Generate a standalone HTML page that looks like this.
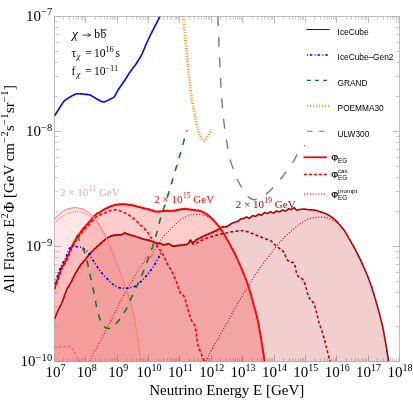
<!DOCTYPE html>
<html><head><meta charset="utf-8"><title>plot</title>
<style>html,body{margin:0;padding:0;background:#fff;overflow:hidden}svg{display:block}</style></head>
<body>
<svg width="413" height="400" viewBox="0 0 413 400">
<defs><clipPath id="cp"><rect x="54.50" y="16.50" width="345.00" height="345.00"/></clipPath></defs>
<rect width="413" height="400" fill="#fff"/>
<path d="M54.5 361.5v-6.4M54.5 16.5v6.4M85.5 361.5v-6.4M85.5 16.5v6.4M117.5 361.5v-6.4M117.5 16.5v6.4M148.5 361.5v-6.4M148.5 16.5v6.4M179.5 361.5v-6.4M179.5 16.5v6.4M211.5 361.5v-6.4M211.5 16.5v6.4M242.5 361.5v-6.4M242.5 16.5v6.4M274.5 361.5v-6.4M274.5 16.5v6.4M305.5 361.5v-6.4M305.5 16.5v6.4M336.5 361.5v-6.4M336.5 16.5v6.4M368.5 361.5v-6.4M368.5 16.5v6.4M399.5 361.5v-6.4M399.5 16.5v6.4M54.5 16.5h7.0M399.5 16.5h-7.0M54.5 131.5h7.0M399.5 131.5h-7.0M54.5 246.5h7.0M399.5 246.5h-7.0M54.5 361.5h7.0M399.5 361.5h-7.0" stroke="#bcbcbc" stroke-width="1" fill="none"/>
<path d="M63.5 361.5v-3.3M63.5 16.5v3.3M69.5 361.5v-3.3M69.5 16.5v3.3M73.5 361.5v-3.3M73.5 16.5v3.3M76.5 361.5v-3.3M76.5 16.5v3.3M78.5 361.5v-3.3M78.5 16.5v3.3M81.5 361.5v-3.3M81.5 16.5v3.3M82.5 361.5v-3.3M82.5 16.5v3.3M84.5 361.5v-3.3M84.5 16.5v3.3M95.5 361.5v-3.3M95.5 16.5v3.3M100.5 361.5v-3.3M100.5 16.5v3.3M104.5 361.5v-3.3M104.5 16.5v3.3M107.5 361.5v-3.3M107.5 16.5v3.3M110.5 361.5v-3.3M110.5 16.5v3.3M112.5 361.5v-3.3M112.5 16.5v3.3M114.5 361.5v-3.3M114.5 16.5v3.3M115.5 361.5v-3.3M115.5 16.5v3.3M126.5 361.5v-3.3M126.5 16.5v3.3M132.5 361.5v-3.3M132.5 16.5v3.3M136.5 361.5v-3.3M136.5 16.5v3.3M139.5 361.5v-3.3M139.5 16.5v3.3M141.5 361.5v-3.3M141.5 16.5v3.3M143.5 361.5v-3.3M143.5 16.5v3.3M145.5 361.5v-3.3M145.5 16.5v3.3M147.5 361.5v-3.3M147.5 16.5v3.3M158.5 361.5v-3.3M158.5 16.5v3.3M163.5 361.5v-3.3M163.5 16.5v3.3M167.5 361.5v-3.3M167.5 16.5v3.3M170.5 361.5v-3.3M170.5 16.5v3.3M172.5 361.5v-3.3M172.5 16.5v3.3M175.5 361.5v-3.3M175.5 16.5v3.3M176.5 361.5v-3.3M176.5 16.5v3.3M178.5 361.5v-3.3M178.5 16.5v3.3M189.5 361.5v-3.3M189.5 16.5v3.3M194.5 361.5v-3.3M194.5 16.5v3.3M198.5 361.5v-3.3M198.5 16.5v3.3M201.5 361.5v-3.3M201.5 16.5v3.3M204.5 361.5v-3.3M204.5 16.5v3.3M206.5 361.5v-3.3M206.5 16.5v3.3M208.5 361.5v-3.3M208.5 16.5v3.3M209.5 361.5v-3.3M209.5 16.5v3.3M220.5 361.5v-3.3M220.5 16.5v3.3M226.5 361.5v-3.3M226.5 16.5v3.3M230.5 361.5v-3.3M230.5 16.5v3.3M233.5 361.5v-3.3M233.5 16.5v3.3M235.5 361.5v-3.3M235.5 16.5v3.3M237.5 361.5v-3.3M237.5 16.5v3.3M239.5 361.5v-3.3M239.5 16.5v3.3M241.5 361.5v-3.3M241.5 16.5v3.3M252.5 361.5v-3.3M252.5 16.5v3.3M257.5 361.5v-3.3M257.5 16.5v3.3M261.5 361.5v-3.3M261.5 16.5v3.3M264.5 361.5v-3.3M264.5 16.5v3.3M267.5 361.5v-3.3M267.5 16.5v3.3M269.5 361.5v-3.3M269.5 16.5v3.3M271.5 361.5v-3.3M271.5 16.5v3.3M272.5 361.5v-3.3M272.5 16.5v3.3M283.5 361.5v-3.3M283.5 16.5v3.3M289.5 361.5v-3.3M289.5 16.5v3.3M292.5 361.5v-3.3M292.5 16.5v3.3M295.5 361.5v-3.3M295.5 16.5v3.3M298.5 361.5v-3.3M298.5 16.5v3.3M300.5 361.5v-3.3M300.5 16.5v3.3M302.5 361.5v-3.3M302.5 16.5v3.3M303.5 361.5v-3.3M303.5 16.5v3.3M314.5 361.5v-3.3M314.5 16.5v3.3M320.5 361.5v-3.3M320.5 16.5v3.3M324.5 361.5v-3.3M324.5 16.5v3.3M327.5 361.5v-3.3M327.5 16.5v3.3M329.5 361.5v-3.3M329.5 16.5v3.3M331.5 361.5v-3.3M331.5 16.5v3.3M333.5 361.5v-3.3M333.5 16.5v3.3M335.5 361.5v-3.3M335.5 16.5v3.3M346.5 361.5v-3.3M346.5 16.5v3.3M351.5 361.5v-3.3M351.5 16.5v3.3M355.5 361.5v-3.3M355.5 16.5v3.3M358.5 361.5v-3.3M358.5 16.5v3.3M361.5 361.5v-3.3M361.5 16.5v3.3M363.5 361.5v-3.3M363.5 16.5v3.3M365.5 361.5v-3.3M365.5 16.5v3.3M366.5 361.5v-3.3M366.5 16.5v3.3M377.5 361.5v-3.3M377.5 16.5v3.3M383.5 361.5v-3.3M383.5 16.5v3.3M387.5 361.5v-3.3M387.5 16.5v3.3M390.5 361.5v-3.3M390.5 16.5v3.3M392.5 361.5v-3.3M392.5 16.5v3.3M394.5 361.5v-3.3M394.5 16.5v3.3M396.5 361.5v-3.3M396.5 16.5v3.3M398.5 361.5v-3.3M398.5 16.5v3.3M54.5 96.5h3.7M399.5 96.5h-3.7M54.5 76.5h3.7M399.5 76.5h-3.7M54.5 62.5h3.7M399.5 62.5h-3.7M54.5 51.5h3.7M399.5 51.5h-3.7M54.5 42.5h3.7M399.5 42.5h-3.7M54.5 34.5h3.7M399.5 34.5h-3.7M54.5 27.5h3.7M399.5 27.5h-3.7M54.5 21.5h3.7M399.5 21.5h-3.7M54.5 211.5h3.7M399.5 211.5h-3.7M54.5 191.5h3.7M399.5 191.5h-3.7M54.5 177.5h3.7M399.5 177.5h-3.7M54.5 166.5h3.7M399.5 166.5h-3.7M54.5 157.5h3.7M399.5 157.5h-3.7M54.5 149.5h3.7M399.5 149.5h-3.7M54.5 142.5h3.7M399.5 142.5h-3.7M54.5 136.5h3.7M399.5 136.5h-3.7M54.5 326.5h3.7M399.5 326.5h-3.7M54.5 306.5h3.7M399.5 306.5h-3.7M54.5 292.5h3.7M399.5 292.5h-3.7M54.5 281.5h3.7M399.5 281.5h-3.7M54.5 272.5h3.7M399.5 272.5h-3.7M54.5 264.5h3.7M399.5 264.5h-3.7M54.5 257.5h3.7M399.5 257.5h-3.7M54.5 251.5h3.7M399.5 251.5h-3.7" stroke="#cccccc" stroke-width="1" fill="none"/>
<rect x="54.50" y="16.50" width="345.00" height="345.00" fill="none" stroke="#b4b4b4" stroke-width="0.85"/>
<g clip-path="url(#cp)" fill="none" stroke-linejoin="round">
<path d="M54.5 319.0L54.6 318.8L54.7 318.4L54.9 317.9L55.2 317.4L55.4 316.7L55.7 316.1L56.0 315.3L56.2 314.6L56.5 313.9L56.8 313.2L57.1 312.5L57.3 311.9L57.6 311.4L57.8 311.0L57.9 310.6L58.1 310.2L58.4 309.7L58.7 309.2L59.0 308.6L59.3 308.0L59.6 307.3L60.0 306.7L60.3 306.0L60.6 305.4L61.0 304.7L61.3 304.1L61.6 303.3L61.8 302.7L62.1 302.2L62.2 301.8L62.4 301.6L62.5 301.4L62.7 301.0L62.9 300.6L63.1 299.9L63.3 299.1L63.6 298.4L63.8 297.7L64.0 297.0L64.3 296.2L64.5 295.4L64.8 294.5L65.0 293.8L65.2 293.3L65.5 293.0L65.7 292.6L65.9 292.1L66.1 291.5L66.2 290.9L66.4 290.3L66.5 289.9L66.7 289.3L67.0 288.9L67.3 288.4L67.6 287.8L68.0 287.2L68.3 286.9L68.7 286.7L69.1 286.0L69.4 285.0L69.7 284.3L70.0 283.9L70.2 283.7L70.4 283.4L70.6 283.1L70.9 282.6L71.1 282.1L71.4 281.6L71.7 281.2L72.0 280.4L72.4 279.3L72.7 278.4L73.0 277.9L73.4 277.6L73.7 277.0L74.0 276.3L74.3 275.6L74.6 275.1L74.8 274.7L75.1 274.1L75.2 273.6L75.5 273.0L75.7 272.5L76.0 272.2L76.3 272.1L76.7 271.7L77.0 270.9L77.4 270.0L77.8 269.4L78.1 268.8L78.5 268.0L78.8 267.5L79.2 267.3L79.5 267.1L79.8 266.6L80.0 265.9L80.2 265.4L80.5 264.9L80.8 264.5L81.2 264.2L81.6 263.6L82.1 263.3L82.6 263.1L83.0 262.1L83.5 261.2L83.9 260.9L84.3 260.7L84.7 260.2L85.0 259.9L85.2 259.7L85.6 259.4L85.9 258.7L86.3 257.7L86.8 257.3L87.2 257.2L87.7 256.6L88.1 255.9L88.6 255.4L88.9 254.8L89.2 254.2L89.5 253.8L89.9 253.8L90.3 253.8L90.8 253.0L91.3 252.1L91.9 251.6L92.4 250.9L92.9 250.7L93.4 250.5L93.8 249.7L94.2 249.0L94.5 248.7L94.8 248.6L95.2 248.3L95.7 247.9L96.2 247.8L96.7 247.0L97.2 246.1L97.7 246.0L98.2 245.9L98.6 245.4L99.0 245.1L99.3 244.9L99.7 244.4L100.1 243.6L100.6 243.4L101.2 243.5L101.7 242.6L102.3 242.1L102.8 241.4L103.4 240.9L103.9 241.0L104.3 240.7L104.7 239.9L105.0 239.5L105.4 239.3L105.9 239.0L106.4 238.6L107.0 238.7L107.6 237.9L108.2 237.2L108.7 237.2L109.1 237.0L109.5 236.8L110.0 236.8L110.6 236.2L111.3 235.7L112.0 236.1L112.7 235.6L113.4 235.3L114.0 234.9L114.4 235.1L114.9 235.6L115.5 235.1L116.2 235.0L117.0 234.8L117.8 235.5L118.6 234.8L119.4 234.9L120.1 234.9L120.7 235.2L121.2 235.0L121.5 234.6L122.1 234.3L122.8 234.2L123.4 233.6L124.0 233.3L124.5 232.6L124.9 232.6L125.5 233.4L126.2 233.5L127.0 233.7L127.7 233.7L128.4 234.6L129.0 234.7L129.3 234.5L129.8 234.6L130.3 234.8L130.9 235.0L131.6 235.7L132.3 235.3L133.0 235.5L133.7 235.9L134.4 236.4L135.0 236.3L135.6 236.0L136.1 236.6L136.5 237.0L136.9 237.0L137.4 237.2L138.0 237.2L138.6 237.1L139.3 238.0L140.0 238.0L140.7 238.1L141.3 238.2L142.0 238.8L142.6 239.2L143.2 238.8L143.6 239.0L144.0 239.2L144.5 239.3L145.0 239.8L145.7 239.9L146.4 239.4L147.1 240.0L147.8 240.1L148.5 240.4L149.1 239.9L149.6 240.1L150.0 240.7L150.5 240.9L151.0 241.0L151.6 241.3L152.2 241.3L152.9 242.2L153.5 242.6L154.0 242.4L154.5 242.7L154.9 242.7L155.4 242.8L156.1 243.4L156.8 242.9L157.6 243.0L158.3 243.2L159.0 243.6L159.6 243.3L160.1 243.0L160.5 243.4L161.1 243.9L161.7 244.2L162.3 244.6L163.0 244.4L163.5 244.9L163.9 245.3L164.5 244.9L165.3 244.6L166.1 244.1L166.9 244.6L167.6 243.9L168.3 243.8L168.8 243.8L169.2 243.9L169.7 244.6L170.3 244.8L170.9 244.7L171.6 245.5L172.2 245.9L172.8 246.3L173.2 246.3L173.6 245.9L174.1 245.9L174.8 246.4L175.4 246.1L176.2 245.9L176.9 245.4L177.7 246.0L178.4 245.5L179.0 245.3L179.6 245.1L180.0 245.1L180.4 245.5L181.0 245.4L181.7 244.8L182.4 245.0L183.2 245.0L183.9 245.1L184.7 244.4L185.3 244.8L185.9 244.7L186.4 244.7L186.8 244.7L187.4 243.8L188.1 243.6L188.6 243.5L189.0 242.9L189.3 242.3L189.7 241.7L190.1 240.9L190.5 240.2L190.8 240.1L191.1 240.7L191.5 241.6L191.9 242.0L192.4 242.3L192.8 242.6L193.1 242.5L193.5 242.0L194.1 241.9L194.7 241.5L195.4 240.3L196.0 240.1L196.5 239.8L196.8 239.6L197.3 239.6L197.8 239.2L198.4 238.3L199.1 238.5L199.8 238.2L200.5 237.9L201.2 237.0L201.9 237.1L202.5 237.0L203.1 236.4L203.6 236.1L204.0 235.8L204.4 235.5L204.9 235.8L205.5 235.7L206.1 234.8L206.8 234.7L207.5 234.4L208.2 234.6L208.8 233.7L209.5 233.3L210.1 233.4L210.7 233.2L211.1 233.1L211.5 232.8L212.0 232.1L212.5 232.1L213.2 232.3L213.9 231.7L214.6 231.2L215.3 230.8L216.0 231.1L216.6 230.4L217.1 230.0L217.5 229.9L217.9 229.6L218.4 229.4L218.9 229.5L219.5 228.6L220.1 227.9L220.7 227.8L221.2 227.4L221.6 227.4L222.0 227.4L222.5 226.8L223.1 226.5L223.9 227.0L224.6 227.0L225.4 226.8L226.0 226.4L226.5 226.9L226.9 226.9L227.5 226.2L228.1 225.8L228.8 225.1L229.5 225.2L230.1 224.8L230.6 224.0L231.0 223.8L231.5 223.6L232.1 223.4L232.8 223.2L233.4 222.7L234.0 222.5L234.4 222.4L234.9 222.2L235.5 221.9L236.2 221.7L237.0 221.6L237.8 221.4L238.5 221.1L239.1 220.6L239.6 220.0L240.0 219.6L240.5 219.2L241.0 218.9L241.5 218.7L242.0 218.6L242.5 218.6L243.0 218.6L243.4 218.6L243.9 218.5L244.5 218.2L245.2 217.7L245.9 217.2L246.6 217.1L247.3 217.3L248.0 217.7L248.6 218.1L249.0 218.2L249.4 218.2L250.0 218.0L250.6 217.4L251.3 216.7L252.0 216.1L252.7 215.8L253.4 215.8L254.0 216.0L254.6 216.2L255.0 216.3L255.4 216.3L256.0 216.1L256.6 215.6L257.3 215.0L258.0 214.5L258.7 214.3L259.4 214.4L260.0 214.7L260.6 215.0L261.0 215.1L261.4 215.1L262.0 214.8L262.6 214.3L263.3 213.6L264.0 213.0L264.7 212.7L265.4 212.8L266.0 213.1L266.6 213.3L267.0 213.4L267.4 213.4L268.0 213.3L268.6 212.9L269.3 212.4L270.0 212.0L270.7 211.9L271.4 212.1L272.0 212.5L272.6 212.8L273.0 213.0L273.4 213.0L274.0 212.9L274.6 212.4L275.3 211.8L276.0 211.2L276.7 211.0L277.4 211.1L278.0 211.4L278.6 211.7L279.0 211.8L279.4 211.8L280.0 211.7L280.6 211.3L281.3 210.7L282.0 210.2L282.7 210.0L283.4 210.2L284.0 210.6L284.6 210.9L285.0 211.0L285.4 211.0L286.0 210.8L286.7 210.3L287.4 209.6L288.1 209.0L288.8 208.8L289.5 208.9L290.1 209.2L290.6 209.4L291.0 209.5L291.6 209.4L292.3 209.0L292.9 208.4L293.5 207.9L294.0 207.7L294.5 207.9L295.1 208.5L295.7 209.3L296.4 209.9L297.0 210.2L297.4 210.1L297.9 209.9L298.5 209.8L299.2 209.7L299.9 209.5L300.6 209.4L301.3 209.2L302.0 209.1L302.6 209.0L303.0 209.0L303.4 209.0L304.0 209.1L304.6 209.1L305.3 209.2L306.0 209.3L306.7 209.4L307.4 209.5L308.0 209.6L308.6 209.7L309.0 209.8L309.4 209.8L310.0 209.8L310.6 209.9L311.3 209.9L312.0 209.9L312.7 210.0L313.4 210.0L314.0 210.1L314.6 210.1L315.0 210.2L315.4 210.3L316.0 210.4L316.6 210.6L317.3 210.8L318.0 211.0L318.7 211.3L319.4 211.5L320.0 211.7L320.6 211.9L321.0 212.0L321.4 212.1L322.0 212.3L322.6 212.6L323.3 212.8L324.0 213.1L324.7 213.3L325.4 213.6L326.0 213.8L326.6 214.1L327.0 214.2L327.4 214.5L327.9 214.7L328.4 215.0L329.0 215.4L329.7 215.8L330.3 216.2L331.0 216.6L331.6 217.0L332.1 217.4L332.6 217.7L333.0 218.0L333.3 218.2L333.6 218.6L334.1 218.9L334.5 219.4L335.0 219.8L335.5 220.3L336.0 220.9L336.5 221.4L337.0 221.9L337.5 222.4L337.9 222.9L338.4 223.3L338.7 223.7L339.0 224.0L339.3 224.3L339.6 224.6L339.9 225.1L340.3 225.5L340.7 226.0L341.1 226.6L341.6 227.1L342.1 227.7L342.5 228.2L343.0 228.8L343.4 229.3L343.8 229.9L344.2 230.3L344.5 230.8L344.8 231.2L345.0 231.5L345.2 231.9L345.5 232.3L345.8 232.8L346.1 233.3L346.4 233.9L346.8 234.5L347.1 235.1L347.5 235.7L347.9 236.4L348.2 237.0L348.5 237.6L348.8 238.1L349.1 238.7L349.4 239.1L349.6 239.5L349.8 239.8L350.0 240.2L350.3 240.7L350.6 241.2L350.9 241.7L351.2 242.3L351.5 242.9L351.9 243.5L352.2 244.1L352.6 244.7L353.0 245.4L353.3 246.0L353.7 246.6L354.0 247.1L354.3 247.7L354.5 248.2L354.8 248.6L355.0 249.0L355.2 249.3L355.4 249.7L355.6 250.1L355.8 250.6L356.1 251.1L356.4 251.7L356.7 252.3L357.0 252.9L357.3 253.5L357.6 254.2L358.0 254.8L358.3 255.5L358.6 256.2L359.0 256.8L359.3 257.4L359.6 258.1L359.9 258.6L360.1 259.2L360.4 259.7L360.6 260.2L360.8 260.6L361.0 261.0L361.2 261.3L361.4 261.8L361.6 262.2L361.8 262.7L362.0 263.2L362.3 263.8L362.6 264.4L362.9 265.1L363.1 265.7L363.4 266.4L363.8 267.1L364.1 267.8L364.4 268.4L364.7 269.1L365.0 269.8L365.2 270.4L365.5 271.1L365.8 271.7L366.0 272.3L366.3 272.8L366.5 273.3L366.7 273.7L366.9 274.2L367.0 274.5L367.2 274.9L367.3 275.3L367.5 275.8L367.7 276.4L368.0 276.9L368.2 277.5L368.4 278.2L368.7 278.8L368.9 279.5L369.2 280.2L369.4 280.8L369.7 281.5L369.9 282.2L370.2 282.8L370.4 283.5L370.6 284.1L370.8 284.6L371.0 285.2L371.2 285.7L371.4 286.1L371.5 286.5L371.6 286.9L371.8 287.3L371.9 287.8L372.1 288.3L372.3 288.9L372.4 289.5L372.6 290.1L372.8 290.8L373.1 291.5L373.3 292.2L373.5 292.9L373.7 293.6L373.9 294.3L374.1 295.0L374.3 295.7L374.5 296.4L374.7 297.0L374.9 297.6L375.1 298.2L375.2 298.7L375.4 299.2L375.5 299.6L375.6 300.0L375.7 300.4L375.9 300.9L376.0 301.4L376.2 302.0L376.3 302.6L376.5 303.2L376.7 303.9L376.9 304.5L377.1 305.2L377.3 305.9L377.5 306.6L377.7 307.3L377.9 308.0L378.1 308.7L378.3 309.3L378.4 310.0L378.6 310.5L378.8 311.1L378.9 311.6L379.0 312.0L379.1 312.4L379.2 312.8L379.3 313.2L379.5 313.7L379.6 314.3L379.8 314.9L379.9 315.5L380.1 316.2L380.3 316.8L380.4 317.5L380.6 318.2L380.8 319.0L381.0 319.7L381.2 320.4L381.3 321.1L381.5 321.8L381.7 322.5L381.9 323.2L382.0 323.9L382.2 324.5L382.3 325.1L382.4 325.6L382.6 326.1L382.7 326.6L382.8 327.0L382.8 327.4L382.9 327.8L383.0 328.3L383.1 328.8L383.2 329.4L383.3 330.0L383.5 330.6L383.6 331.2L383.7 331.9L383.8 332.6L384.0 333.3L384.1 334.0L384.2 334.8L384.3 335.5L384.5 336.2L384.6 337.0L384.7 337.7L384.9 338.4L385.0 339.1L385.1 339.8L385.2 340.4L385.3 341.0L385.4 341.6L385.5 342.1L385.6 342.6L385.7 343.1L385.8 343.5L385.8 343.9L385.9 344.3L386.0 344.8L386.1 345.3L386.1 345.9L386.2 346.5L386.3 347.2L386.5 347.8L386.6 348.5L386.7 349.3L386.8 350.0L386.9 350.8L387.0 351.5L387.2 352.3L387.3 353.1L387.4 353.8L387.5 354.6L387.6 355.3L387.8 356.0L387.9 356.7L388.0 357.4L388.1 358.0L388.2 358.6L388.3 359.2L388.3 359.7L388.4 360.2L388.5 360.6L388.5 360.9L388.6 361.2L388.6 361.4L388.60 366.50 L54.50 366.50 Z" fill="#b40000" fill-opacity="0.19" stroke="none"/>
<path d="M54.5 288.0L54.6 287.9L55.0 286.9L55.1 286.6L55.2 286.2L55.4 285.7L55.6 285.2L55.8 284.6L56.0 283.9L56.2 283.2L56.5 282.5L56.7 281.8L56.9 281.1L57.2 280.4L57.4 279.8L57.6 279.1L57.8 278.5L58.0 278.0L58.2 277.5L58.3 277.0L58.5 276.5L58.7 275.9L58.9 275.3L59.1 274.7L59.3 274.0L59.5 273.4L59.8 272.7L60.0 272.1L60.2 271.4L60.4 270.8L60.7 270.2L60.9 269.6L61.1 269.1L61.3 268.6L61.5 268.1L61.7 267.6L62.0 267.2L62.2 266.6L62.5 266.2L62.8 265.7L63.1 265.1L63.5 264.5L63.8 263.9L64.1 263.4L64.5 262.7L64.8 261.9L65.1 261.5L65.4 261.3L65.7 261.0L66.0 260.5L66.3 259.8L66.5 259.1L66.7 258.6L66.9 258.1L67.2 257.6L67.4 257.1L67.7 256.4L67.9 255.8L68.1 255.2L68.4 254.8L68.6 254.4L68.9 253.8L69.1 253.0L69.4 252.1L69.6 251.3L69.9 250.7L70.1 250.3L70.3 249.9L70.5 249.5L70.7 249.0L71.0 248.5L71.2 248.0L71.5 247.6L71.8 247.0L72.1 246.2L72.4 245.3L72.7 244.5L73.0 244.0L73.3 243.7L73.7 243.2L74.0 242.6L74.2 242.0L74.5 241.5L74.8 241.0L75.0 240.6L75.3 239.8L75.6 239.1L76.0 238.7L76.3 238.6L76.7 238.2L77.1 237.4L77.4 236.6L77.8 236.1L78.2 235.5L78.5 234.8L78.9 234.4L79.2 234.3L79.5 234.1L79.8 233.6L80.2 232.8L80.5 232.1L80.9 231.7L81.3 231.2L81.7 230.7L82.1 230.3L82.5 230.0L82.9 229.3L83.3 228.4L83.6 227.9L84.0 227.7L84.3 227.5L84.6 227.1L85.0 226.7L85.4 226.3L85.8 225.7L86.3 224.8L86.7 224.4L87.2 224.3L87.6 223.9L88.0 223.2L88.5 222.7L88.9 222.2L89.3 221.5L89.7 221.1L90.0 221.1L90.3 221.0L90.7 220.4L91.1 219.6L91.6 219.1L92.0 218.6L92.5 218.0L92.9 217.8L93.4 217.5L93.8 216.6L94.3 215.8L94.7 215.5L95.1 215.2L95.4 214.8L95.7 214.5L96.0 214.5L96.7 213.8L97.2 213.1L97.8 213.2L98.3 213.2L99.0 212.9L99.4 212.7L99.8 212.1L100.3 211.6L100.8 211.7L101.4 211.4L102.0 210.8L102.6 210.3L103.2 209.7L103.8 209.9L104.4 209.5L105.0 208.8L105.4 208.7L105.9 208.5L106.4 208.3L106.9 208.4L107.5 207.9L108.1 207.2L108.7 207.3L109.3 207.0L110.0 207.0L110.6 206.3L111.3 205.9L111.9 206.2L112.4 205.8L113.0 205.6L113.5 205.3L114.0 204.9L114.5 205.2L115.0 205.3L115.6 204.8L116.2 204.7L116.9 204.5L117.5 204.8L118.2 204.8L118.8 204.2L119.5 204.3L120.1 204.3L120.8 204.6L121.4 204.2L122.0 203.9L122.5 204.3L123.0 204.3L123.5 204.3L124.0 204.4L124.6 203.9L125.2 204.3L125.9 204.6L126.5 204.4L127.2 204.5L127.8 204.3L128.5 205.0L129.1 204.9L129.8 204.7L130.4 204.9L131.0 205.0L131.5 205.5L132.0 205.4L132.5 205.0L133.0 205.4L133.6 205.6L134.2 205.9L134.9 206.1L135.5 205.7L136.2 206.3L136.8 206.5L137.5 206.7L138.1 206.6L138.8 206.7L139.4 207.4L140.0 207.3L140.5 207.3L141.0 207.4L141.5 207.4L142.1 207.9L142.6 208.2L143.3 207.8L143.9 208.2L144.6 208.3L145.2 208.9L145.9 208.7L146.6 208.6L147.2 209.2L147.9 209.3L148.4 209.6L149.0 209.2L149.5 209.3L150.0 209.9L150.6 210.1L151.2 210.1L151.8 210.2L152.5 210.2L153.1 211.1L153.8 210.8L154.5 211.0L155.2 211.1L155.8 211.6L156.4 211.8L157.0 211.4L157.5 211.5L158.0 211.7L158.6 211.7L159.2 211.9L159.8 211.3L160.5 211.3L161.2 211.5L161.9 211.4L162.5 211.1L163.2 210.7L163.8 211.2L164.4 211.0L165.0 210.8L165.5 210.7L166.0 210.5L166.6 210.9L167.1 211.1L167.8 210.6L168.4 210.7L169.1 210.7L169.8 211.1L170.4 210.8L171.1 210.5L171.7 210.9L172.4 210.9L172.9 211.0L173.5 210.5L174.0 210.4L174.5 210.8L175.0 210.7L175.6 210.5L176.2 210.3L176.9 209.8L177.5 210.3L178.2 210.0L178.8 209.6L179.5 209.4L180.1 209.4L180.8 209.7L181.4 209.1L182.0 208.9L182.5 209.0L183.0 209.0L183.5 209.3L184.1 209.1L184.6 208.6L185.3 209.1L185.9 209.2L186.6 209.3L187.2 209.0L187.9 209.1L188.6 209.6L189.2 209.4L189.9 209.5L190.4 209.3L191.0 209.6L191.5 210.1L192.0 209.8L192.6 209.6L193.2 209.8L193.8 209.9L194.5 210.4L195.2 209.8L195.9 210.1L196.6 210.3L197.2 210.6L197.9 210.4L198.5 210.2L199.0 210.8L199.5 211.0L200.1 211.0L200.7 211.2L201.3 211.1L201.9 211.8L202.6 212.2L203.2 212.2L203.8 212.5L204.4 212.7L205.0 213.5L205.5 213.8L205.9 213.6L206.4 213.9L206.9 214.3L207.4 214.7L208.0 215.4L208.5 215.8L209.0 215.6L209.6 216.3L210.1 216.9L210.6 217.2L211.1 217.7L211.5 218.0L211.8 218.3L212.2 218.7L212.6 219.1L213.0 219.6L213.5 220.0L213.9 220.5L214.3 221.0L214.8 221.6L215.2 222.1L215.7 222.6L216.1 223.1L216.5 223.5L216.9 224.0L217.2 224.4L217.5 224.8L217.9 225.2L218.2 225.7L218.6 226.2L219.0 226.7L219.4 227.2L219.8 227.7L220.2 228.2L220.6 228.8L221.0 229.3L221.3 229.8L221.7 230.3L222.0 230.8L222.3 231.2L222.6 231.6L222.9 232.1L223.2 232.7L223.5 233.2L223.9 233.8L224.2 234.4L224.6 235.0L225.0 235.6L225.3 236.2L225.6 236.7L225.9 237.3L226.2 237.8L226.5 238.2L226.8 238.7L227.0 239.2L227.3 239.7L227.6 240.3L227.9 240.8L228.3 241.4L228.6 242.0L228.9 242.6L229.2 243.2L229.6 243.8L229.9 244.4L230.2 245.0L230.5 245.5L230.7 246.0L231.0 246.5L231.2 246.9L231.5 247.4L231.7 247.9L232.0 248.4L232.3 248.9L232.6 249.4L232.9 249.9L233.2 250.5L233.5 251.0L233.8 251.6L234.1 252.2L234.4 252.7L234.7 253.3L235.0 253.9L235.2 254.4L235.5 255.0L235.7 255.4L235.9 255.8L236.1 256.3L236.3 256.8L236.6 257.3L236.8 257.8L237.1 258.4L237.3 259.0L237.6 259.6L237.9 260.2L238.1 260.8L238.4 261.4L238.7 262.1L239.0 262.7L239.3 263.3L239.5 264.0L239.8 264.6L240.1 265.2L240.3 265.8L240.6 266.4L240.8 266.9L241.1 267.5L241.3 268.0L241.5 268.5L241.7 269.0L241.9 269.4L242.1 269.9L242.3 270.5L242.6 271.0L242.8 271.6L243.0 272.2L243.3 272.8L243.5 273.4L243.8 274.0L244.1 274.6L244.3 275.3L244.6 275.9L244.8 276.6L245.1 277.2L245.3 277.8L245.6 278.5L245.8 279.1L246.1 279.7L246.3 280.3L246.5 280.9L246.8 281.5L247.0 282.0L247.1 282.5L247.3 283.0L247.5 283.5L247.7 284.0L247.8 284.5L248.0 285.0L248.2 285.5L248.4 286.1L248.5 286.7L248.7 287.2L248.9 287.8L249.1 288.4L249.3 289.1L249.5 289.7L249.6 290.3L249.8 290.9L250.0 291.6L250.2 292.2L250.4 292.8L250.6 293.4L250.7 294.0L250.9 294.6L251.1 295.2L251.2 295.8L251.4 296.4L251.6 297.0L251.7 297.5L251.9 298.0L252.0 298.5L252.1 299.0L252.3 299.5L252.4 300.0L252.6 300.6L252.7 301.1L252.9 301.7L253.1 302.4L253.3 303.0L253.4 303.6L253.6 304.3L253.8 305.0L254.0 305.6L254.2 306.3L254.4 307.0L254.5 307.7L254.7 308.3L254.9 309.0L255.1 309.7L255.3 310.3L255.4 310.9L255.6 311.5L255.7 312.1L255.9 312.7L256.0 313.2L256.2 313.7L256.3 314.2L256.4 314.6L256.5 315.0L256.7 315.6L256.8 316.2L256.9 316.8L257.1 317.3L257.2 317.8L257.3 318.4L257.5 318.9L257.6 319.4L257.7 320.0L257.8 320.5L258.0 321.1L258.1 321.7L258.2 322.3L258.3 322.9L258.5 323.6L258.6 324.3L258.8 325.0L258.8 325.4L258.9 325.8L259.0 326.2L259.0 326.6L259.1 327.1L259.2 327.7L259.3 328.2L259.4 328.8L259.5 329.4L259.6 330.0L259.7 330.6L259.8 331.2L259.9 331.9L260.1 332.6L260.2 333.3L260.3 333.9L260.4 334.6L260.5 335.3L260.6 336.1L260.7 336.8L260.9 337.5L261.0 338.2L261.1 338.9L261.2 339.6L261.3 340.2L261.4 340.9L261.5 341.6L261.6 342.2L261.7 342.9L261.8 343.5L261.9 344.1L262.0 344.6L262.1 345.2L262.2 345.7L262.3 346.2L262.4 346.7L262.4 347.1L262.5 347.5L262.6 348.1L262.7 348.8L262.8 349.5L262.9 350.2L263.0 350.9L263.1 351.6L263.3 352.4L263.4 353.1L263.5 353.8L263.6 354.5L263.7 355.2L263.8 355.9L263.9 356.6L264.0 357.2L264.1 357.9L264.2 358.4L264.2 359.0L264.3 359.5L264.4 360.0L264.5 360.4L264.5 360.8L264.6 361.1L264.6 361.4L264.60 366.50 L54.50 366.50 Z" fill="#ff0000" fill-opacity="0.2" stroke="none"/>
<path d="M54.5 219.0L54.8 218.7L55.1 218.4L55.5 218.0L55.9 217.5L56.4 217.0L56.9 216.5L57.4 215.9L57.9 215.4L58.5 214.9L59.0 214.4L59.5 213.9L60.0 213.5L60.5 213.1L61.0 212.7L61.6 212.3L62.1 211.9L62.6 211.6L63.1 211.2L63.7 210.9L64.2 210.6L64.8 210.3L65.4 210.0L66.0 209.8L66.6 209.5L67.2 209.3L67.8 209.1L68.4 208.9L69.1 208.7L69.8 208.5L70.4 208.4L71.1 208.2L71.7 208.1L72.3 208.0L72.9 207.9L73.5 207.8L74.2 207.7L74.8 207.7L75.4 207.7L76.0 207.7L76.6 207.8L77.2 207.8L77.7 207.9L78.3 208.0L78.9 208.1L79.5 208.2L80.1 208.4L80.7 208.5L81.3 208.7L81.9 208.9L82.5 209.1L83.1 209.4L83.7 209.6L84.3 209.9L84.9 210.2L85.5 210.5L86.0 210.8L86.5 211.1L87.0 211.4L87.5 211.7L88.0 212.1L88.5 212.4L89.0 212.8L89.5 213.2L90.0 213.6L90.5 214.1L91.0 214.5L91.5 215.0L91.9 215.4L92.2 215.8L92.6 216.2L93.0 216.6L93.4 217.0L93.8 217.5L94.1 218.0L94.5 218.4L94.9 218.9L95.2 219.4L95.6 219.9L96.0 220.4L96.4 220.9L96.8 221.4L97.1 222.0L97.5 222.5L97.8 223.0L98.1 223.4L98.5 223.9L98.8 224.4L99.1 224.9L99.4 225.4L99.8 226.0L100.1 226.5L100.4 227.0L100.8 227.5L101.1 228.1L101.4 228.6L101.7 229.1L102.0 229.7L102.3 230.2L102.6 230.7L102.9 231.2L103.2 231.8L103.5 232.2L103.8 232.8L104.1 233.4L104.4 233.9L104.7 234.4L105.0 235.0L105.2 235.5L105.5 236.0L105.8 236.5L106.0 237.0L106.3 237.6L106.6 238.1L106.8 238.7L107.1 239.3L107.4 239.9L107.7 240.6L108.0 241.2L108.2 241.7L108.4 242.2L108.7 242.7L108.9 243.3L109.1 243.8L109.3 244.3L109.6 244.9L109.8 245.4L110.0 246.0L110.3 246.6L110.5 247.2L110.8 247.8L111.0 248.3L111.3 248.9L111.5 249.5L111.7 250.1L112.0 250.8L112.2 251.4L112.5 252.0L112.7 252.6L113.0 253.2L113.2 253.8L113.5 254.4L113.7 255.0L113.9 255.6L114.1 256.1L114.4 256.7L114.6 257.2L114.8 257.8L115.0 258.4L115.3 258.9L115.5 259.5L115.7 260.1L115.9 260.7L116.2 261.3L116.4 261.8L116.6 262.4L116.9 263.0L117.1 263.6L117.3 264.2L117.5 264.8L117.8 265.3L118.0 265.9L118.2 266.5L118.4 267.1L118.6 267.7L118.9 268.3L119.1 268.8L119.3 269.4L119.5 270.0L119.7 270.6L119.9 271.2L120.1 271.7L120.3 272.3L120.5 272.9L120.7 273.4L121.0 274.0L121.2 274.6L121.4 275.2L121.6 275.7L121.8 276.3L122.0 276.9L122.2 277.4L122.4 278.0L122.6 278.6L122.8 279.2L123.0 279.7L123.2 280.3L123.4 280.9L123.5 281.5L123.7 282.1L123.9 282.6L124.1 283.2L124.3 283.8L124.5 284.4L124.8 285.0L124.9 285.6L125.1 286.1L125.3 286.7L125.5 287.2L125.7 287.8L125.9 288.4L126.1 289.0L126.3 289.5L126.5 290.1L126.7 290.7L126.9 291.3L127.1 291.9L127.3 292.4L127.5 293.0L127.7 293.6L127.9 294.2L128.0 294.8L128.2 295.4L128.4 295.9L128.6 296.5L128.8 297.1L129.0 297.7L129.2 298.2L129.3 298.8L129.5 299.3L129.7 299.9L129.8 300.5L130.0 301.0L130.2 301.6L130.4 302.3L130.5 302.9L130.7 303.5L130.9 304.1L131.1 304.7L131.2 305.3L131.4 305.9L131.5 306.5L131.7 307.0L131.9 307.6L132.0 308.2L132.2 308.8L132.3 309.4L132.5 310.0L132.6 310.6L132.8 311.2L132.9 311.8L133.0 312.4L133.2 313.0L133.3 313.6L133.5 314.2L133.6 314.9L133.8 315.5L133.9 316.1L134.0 316.7L134.1 317.3L134.2 317.9L134.4 318.5L134.5 319.1L134.6 319.7L134.7 320.3L134.8 320.9L134.9 321.5L135.1 322.2L135.2 322.8L135.3 323.4L135.4 324.0L135.5 324.7L135.6 325.3L135.7 325.9L135.8 326.5L135.9 327.2L136.0 327.8L136.1 328.4L136.3 329.0L136.4 329.6L136.5 330.2L136.6 330.8L136.7 331.4L136.8 332.0L136.9 332.6L137.0 333.3L137.1 333.9L137.2 334.5L137.3 335.1L137.3 335.7L137.4 336.3L137.5 336.9L137.6 337.5L137.7 338.1L137.8 338.7L137.9 339.3L138.0 339.9L138.1 340.5L138.2 341.1L138.2 341.7L138.3 342.3L138.4 342.9L138.5 343.5L138.6 344.1L138.7 344.6L138.8 345.2L138.8 345.8L138.9 346.4L139.0 347.0L139.1 347.6L139.2 348.3L139.3 348.9L139.4 349.6L139.5 350.3L139.5 351.0L139.6 351.7L139.7 352.4L139.8 353.1L139.9 353.8L140.0 354.5L140.1 355.1L140.2 355.8L140.3 356.5L140.3 357.1L140.4 357.7L140.5 358.3L140.6 358.8L140.6 359.4L140.7 359.8L140.8 360.3L140.8 360.7L140.9 361.1L140.9 361.4L140.90 366.50 L54.50 366.50 Z" fill="#ff8080" fill-opacity="0.2" stroke="none"/>
<path d="M205.8 361.4L205.9 361.1L206.1 360.8L206.3 360.4L206.5 359.9L206.8 359.5L207.0 358.9L207.3 358.4L207.5 357.8L207.8 357.3L208.1 356.7L208.4 356.0L208.7 355.4L209.1 354.8L209.4 354.2L209.7 353.5L210.0 352.9L210.3 352.3L210.6 351.7L210.9 351.1L211.2 350.5L211.5 350.0L211.8 349.5L212.1 348.9L212.4 348.4L212.7 347.8L213.0 347.3L213.3 346.8L213.6 346.3L213.9 345.7L214.2 345.2L214.5 344.7L214.8 344.2L215.1 343.7L215.4 343.1L215.7 342.6L216.0 342.1L216.3 341.6L216.6 341.1L216.9 340.5L217.2 340.0L217.5 339.5L217.8 339.0L218.1 338.5L218.4 337.9L218.7 337.4L219.0 336.9L219.3 336.3L219.6 335.8L219.9 335.3L220.2 334.8L220.5 334.2L220.8 333.7L221.1 333.2L221.4 332.7L221.7 332.1L222.0 331.6L222.3 331.1L222.6 330.6L222.9 330.1L223.2 329.5L223.5 329.0L223.8 328.5L224.1 327.9L224.4 327.4L224.7 326.9L225.0 326.4L225.3 325.8L225.6 325.3L225.9 324.8L226.3 324.2L226.6 323.7L226.9 323.2L227.2 322.6L227.5 322.1L227.8 321.6L228.1 321.1L228.4 320.5L228.7 320.0L228.9 319.5L229.2 319.0L229.5 318.5L229.8 317.9L230.1 317.4L230.4 316.8L230.7 316.2L231.0 315.7L231.3 315.2L231.5 314.6L231.8 314.1L232.1 313.6L232.3 313.0L232.6 312.5L232.9 311.9L233.2 311.4L233.5 310.8L233.8 310.2L234.2 309.6L234.5 309.0L234.8 308.5L235.0 308.0L235.3 307.6L235.6 307.1L235.9 306.6L236.2 306.0L236.5 305.5L236.8 305.0L237.1 304.5L237.4 304.0L237.7 303.4L238.0 302.9L238.3 302.4L238.6 301.8L238.9 301.3L239.3 300.7L239.6 300.2L239.9 299.7L240.2 299.1L240.5 298.6L240.9 298.1L241.2 297.5L241.5 297.0L241.8 296.5L242.1 296.0L242.5 295.4L242.8 294.9L243.1 294.4L243.4 293.9L243.7 293.3L244.1 292.8L244.4 292.3L244.7 291.8L245.1 291.3L245.4 290.7L245.7 290.2L246.0 289.7L246.4 289.2L246.7 288.7L247.0 288.1L247.4 287.6L247.7 287.1L248.0 286.6L248.3 286.0L248.7 285.5L249.0 285.0L249.3 284.5L249.7 284.0L250.0 283.4L250.3 282.9L250.6 282.4L251.0 281.8L251.3 281.3L251.6 280.8L251.9 280.2L252.3 279.7L252.6 279.2L252.9 278.6L253.2 278.1L253.6 277.6L253.9 277.1L254.2 276.5L254.5 276.0L254.9 275.5L255.2 275.0L255.5 274.5L255.8 274.0L256.2 273.5L256.5 273.0L256.9 272.5L257.2 271.9L257.6 271.4L258.0 270.8L258.4 270.3L258.7 269.8L259.1 269.2L259.5 268.7L259.9 268.1L260.2 267.6L260.6 267.1L261.0 266.6L261.4 266.1L261.7 265.6L262.1 265.1L262.4 264.6L262.8 264.2L263.1 263.7L263.4 263.3L263.7 262.9L264.0 262.5L264.5 261.9L264.9 261.3L265.4 260.7L265.8 260.2L266.2 259.7L266.5 259.3L266.9 258.8L267.2 258.4L267.6 258.0L267.9 257.6L268.2 257.2L268.5 256.8L268.9 256.2L269.3 255.7L269.6 255.2L269.9 254.8L270.2 254.3L270.6 253.8L271.0 253.2L271.5 252.5L271.8 252.1L272.1 251.7L272.4 251.3L272.8 250.9L273.1 250.4L273.5 250.0L273.8 249.5L274.2 249.0L274.6 248.5L275.0 248.0L275.4 247.5L275.8 247.0L276.2 246.5L276.7 246.0L277.1 245.5L277.5 245.0L277.9 244.6L278.3 244.1L278.6 243.7L279.0 243.2L279.4 242.8L279.8 242.3L280.2 241.8L280.6 241.4L281.1 240.9L281.5 240.4L281.9 240.0L282.3 239.5L282.8 239.0L283.2 238.6L283.6 238.1L284.1 237.7L284.5 237.2L285.0 236.8L285.4 236.3L285.9 235.9L286.4 235.5L286.8 235.0L287.3 234.6L287.8 234.1L288.3 233.7L288.8 233.3L289.3 232.8L289.8 232.4L290.3 232.0L290.8 231.6L291.3 231.1L291.8 230.7L292.3 230.4L292.7 230.0L293.2 229.6L293.6 229.2L294.0 228.9L294.6 228.4L295.2 227.9L295.7 227.4L296.2 227.0L296.7 226.6L297.2 226.2L297.7 225.8L298.1 225.4L298.6 225.1L299.0 224.7L299.5 224.4L300.0 224.0L300.5 223.6L301.1 223.2L301.6 222.9L302.2 222.5L302.7 222.1L303.3 221.8L303.8 221.5L304.4 221.1L304.9 220.8L305.5 220.5L306.0 220.2L306.6 220.0L307.2 219.7L307.8 219.4L308.4 219.2L309.0 218.9L309.6 218.7L310.2 218.5L310.8 218.3L311.4 218.2L312.0 218.0L312.6 217.9L313.2 217.7L313.8 217.6L314.4 217.6L315.0 217.5L315.6 217.4L316.2 217.4L316.8 217.3L317.4 217.3L318.0 217.2L318.6 217.2L319.2 217.2L319.8 217.1L320.4 217.1L321.0 217.1L321.6 217.1L322.2 217.1L322.8 217.1L323.4 217.2L324.0 217.2L324.6 217.3L325.2 217.4L325.8 217.5L326.5 217.7L327.1 217.8L327.7 218.0L328.3 218.1L328.9 218.3L329.5 218.5L330.0 218.8L330.6 219.0L331.2 219.4L331.8 219.8L332.3 220.1L332.9 220.5L333.4 220.9L333.8 221.3L334.2 221.5L334.5 221.8" stroke="#ad0000" stroke-width="1.2" stroke-dasharray="0.95 1.9"/>
<path d="M189.0 242.8L189.3 242.2L189.7 241.4L190.2 240.8L190.8 240.6L191.1 240.9L191.4 241.4L191.7 242.1L192.1 242.8L192.5 243.5L192.9 244.0L193.5 244.2L193.9 244.2L194.4 244.1L194.9 243.9L195.4 243.6L196.0 243.3L196.6 243.0L197.2 242.6L197.8 242.2L198.4 241.9L198.9 241.5L199.5 241.2L200.1 241.0L200.7 240.7L201.3 240.4L201.9 240.2L202.5 239.9L203.1 239.7L203.7 239.4L204.3 239.2L204.9 238.9L205.5 238.7L206.1 238.5L206.7 238.3L207.3 238.1L207.8 237.9L208.4 237.7L209.0 237.5L209.6 237.3L210.2 237.1L210.8 237.0L211.5 236.8L212.0 236.6L212.6 236.4L213.2 236.2L213.7 236.0L214.3 235.9L214.9 235.7L215.6 235.5L216.2 235.3L216.8 235.1L217.3 235.0L217.9 234.8L218.5 234.6L219.0 234.5L219.7 234.3L220.3 234.2L220.9 234.1L221.5 234.0L222.1 233.8L222.7 233.7L223.2 233.6L223.8 233.5L224.4 233.4L225.0 233.3L225.6 233.2L226.2 233.0L226.9 232.9L227.5 232.7L228.2 232.5L228.8 232.4L229.4 232.2L230.0 232.1L230.5 232.0L231.0 231.9L231.8 231.8L232.4 231.8L232.9 231.8L233.4 231.8L234.0 231.7L234.6 231.6L235.2 231.5L235.9 231.3L236.6 231.1L237.3 231.0L238.0 230.9L238.6 230.8L239.2 230.8L239.8 230.7L240.4 230.7L241.0 230.7L241.7 230.7L242.3 230.7L243.0 230.8L243.6 230.8L244.1 230.9L244.7 231.0L245.3 231.2L245.8 231.3L246.4 231.5L247.1 231.6L247.7 231.8L248.3 232.0L249.0 232.2L249.5 232.4L250.1 232.6L250.6 232.8L251.2 233.1L251.8 233.3L252.4 233.5L253.0 233.8L253.5 234.0L254.1 234.3L254.7 234.5L255.3 234.8L255.9 235.0L256.5 235.2L257.1 235.5L257.7 235.7L258.2 235.9L258.8 236.2L259.4 236.4L260.0 236.6L260.5 236.9L261.1 237.1L261.7 237.3L262.3 237.6L262.8 237.8L263.4 238.0L264.0 238.2L264.6 238.5L265.2 238.7L265.8 238.9L266.4 239.1L267.0 239.3L267.6 239.5L268.2 239.8L268.8 240.0L269.4 240.2L270.0 240.5L270.5 240.7L271.0 241.0L271.5 241.2L272.1 241.6L272.6 242.1L273.0 242.5L273.4 242.9L273.8 243.4L274.2 243.9L274.6 244.4L275.1 244.8L275.5 245.3L276.0 245.8L276.5 246.1L277.0 246.5L277.5 246.9L278.0 247.3L278.6 247.7L279.1 248.1L279.7 248.5L280.2 248.9L280.7 249.2L281.2 249.6L281.6 249.9L282.0 250.2L282.7 250.9L283.1 251.3L283.5 251.8L283.8 252.3L284.2 253.0L284.4 253.5L284.7 254.0L284.9 254.7L285.2 255.3L285.4 256.0L285.7 256.7L285.9 257.3L286.2 257.9L286.5 258.5L286.8 259.0L287.1 259.6L287.5 260.1L287.9 260.6L288.3 261.0L288.8 261.3L289.2 261.7L289.8 262.0L290.3 262.2L291.0 262.3L291.7 262.4L292.4 262.4L293.1 262.6L293.7 262.9L294.2 263.5L294.5 263.9L294.7 264.4L294.8 264.9L295.0 265.5L295.2 266.1L295.3 266.8L295.4 267.5L295.6 268.2L295.7 268.9L295.8 269.6L296.0 270.2L296.1 270.9L296.2 271.5L296.4 272.0L296.5 272.5L296.8 273.3L297.0 274.0L297.3 274.6L297.5 275.2L297.8 275.7L298.1 276.1L298.4 276.6L298.8 277.0L299.2 277.4L299.7 277.7L300.3 277.9L300.9 278.1L301.4 278.4L302.0 278.8L302.5 279.2L302.8 279.6L303.1 280.1L303.4 280.5L303.7 281.0L304.0 281.6L304.2 282.1L304.5 282.7L304.8 283.3L305.0 283.9L305.3 284.6L305.5 285.2L305.7 285.8L305.8 286.3L306.0 286.9L306.1 287.5L306.3 288.1L306.4 288.8L306.6 289.4L306.7 290.1L306.8 290.7L307.0 291.4L307.1 292.0L307.3 292.6L307.4 293.2L307.6 293.7L307.8 294.2L308.0 294.9L308.3 295.6L308.5 296.2L308.8 296.8L309.1 297.4L309.4 297.9L309.7 298.4L309.9 298.9L310.2 299.4L310.5 299.8L310.8 300.2L311.2 300.8L311.7 301.1L312.1 301.4L312.5 301.7L313.0 302.1L313.4 302.8L313.6 303.2L313.8 303.6L314.0 304.1L314.2 304.6L314.4 305.2L314.6 305.7L314.8 306.3L315.0 306.9L315.2 307.6L315.4 308.2L315.6 308.9L315.8 309.6L316.0 310.3L316.2 311.0L316.4 311.5L316.5 312.1L316.7 312.6L316.8 313.2L317.0 313.8L317.1 314.4L317.3 315.0L317.4 315.7L317.6 316.3L317.7 316.9L317.9 317.6L318.0 318.2L318.2 318.9L318.3 319.5L318.5 320.1L318.6 320.7L318.8 321.3L318.9 321.9L319.1 322.5L319.2 323.0L319.5 323.7L319.7 324.3L319.9 325.0L320.1 325.6L320.3 326.2L320.4 326.7L320.6 327.3L320.9 327.9L321.1 328.4L321.2 329.0L321.4 329.6L321.6 330.2L321.9 330.7L322.0 331.4L322.2 332.0L322.4 332.5L322.6 333.1L322.8 333.6L322.9 334.2L323.1 334.8L323.3 335.3L323.4 335.9L323.6 336.5L323.8 337.1L323.9 337.6L324.1 338.2L324.2 338.8L324.4 339.4L324.6 340.0L324.8 340.6L324.9 341.3L325.1 341.9L325.2 342.5L325.4 343.1L325.6 343.7L325.7 344.3L325.9 344.9L326.0 345.5L326.2 346.2L326.3 346.8L326.5 347.4L326.7 348.1L326.8 348.7L327.0 349.4L327.1 350.0L327.3 350.6L327.4 351.2L327.6 351.8L327.7 352.4L327.9 353.0L328.0 353.5L328.1 354.0L328.2 354.5L328.5 355.3L328.7 356.2L328.9 356.9L329.1 357.7L329.2 358.4L329.4 359.0L329.5 359.6L329.7 360.2L329.8 360.6L329.9 361.1L330.0 361.4" stroke="#ad0000" stroke-width="1.6" stroke-dasharray="3 2.2"/>
<path d="M54.5 319.0L54.6 318.8L54.7 318.4L54.9 317.9L55.2 317.4L55.4 316.7L55.7 316.1L56.0 315.3L56.2 314.6L56.5 313.9L56.8 313.2L57.1 312.5L57.3 311.9L57.6 311.4L57.8 311.0L57.9 310.6L58.1 310.2L58.4 309.7L58.7 309.2L59.0 308.6L59.3 308.0L59.6 307.3L60.0 306.7L60.3 306.0L60.6 305.4L61.0 304.7L61.3 304.1L61.6 303.3L61.8 302.7L62.1 302.2L62.2 301.8L62.4 301.6L62.5 301.4L62.7 301.0L62.9 300.6L63.1 299.9L63.3 299.1L63.6 298.4L63.8 297.7L64.0 297.0L64.3 296.2L64.5 295.4L64.8 294.5L65.0 293.8L65.2 293.3L65.5 293.0L65.7 292.6L65.9 292.1L66.1 291.5L66.2 290.9L66.4 290.3L66.5 289.9L66.7 289.3L67.0 288.9L67.3 288.4L67.6 287.8L68.0 287.2L68.3 286.9L68.7 286.7L69.1 286.0L69.4 285.0L69.7 284.3L70.0 283.9L70.2 283.7L70.4 283.4L70.6 283.1L70.9 282.6L71.1 282.1L71.4 281.6L71.7 281.2L72.0 280.4L72.4 279.3L72.7 278.4L73.0 277.9L73.4 277.6L73.7 277.0L74.0 276.3L74.3 275.6L74.6 275.1L74.8 274.7L75.1 274.1L75.2 273.6L75.5 273.0L75.7 272.5L76.0 272.2L76.3 272.1L76.7 271.7L77.0 270.9L77.4 270.0L77.8 269.4L78.1 268.8L78.5 268.0L78.8 267.5L79.2 267.3L79.5 267.1L79.8 266.6L80.0 265.9L80.2 265.4L80.5 264.9L80.8 264.5L81.2 264.2L81.6 263.6L82.1 263.3L82.6 263.1L83.0 262.1L83.5 261.2L83.9 260.9L84.3 260.7L84.7 260.2L85.0 259.9L85.2 259.7L85.6 259.4L85.9 258.7L86.3 257.7L86.8 257.3L87.2 257.2L87.7 256.6L88.1 255.9L88.6 255.4L88.9 254.8L89.2 254.2L89.5 253.8L89.9 253.8L90.3 253.8L90.8 253.0L91.3 252.1L91.9 251.6L92.4 250.9L92.9 250.7L93.4 250.5L93.8 249.7L94.2 249.0L94.5 248.7L94.8 248.6L95.2 248.3L95.7 247.9L96.2 247.8L96.7 247.0L97.2 246.1L97.7 246.0L98.2 245.9L98.6 245.4L99.0 245.1L99.3 244.9L99.7 244.4L100.1 243.6L100.6 243.4L101.2 243.5L101.7 242.6L102.3 242.1L102.8 241.4L103.4 240.9L103.9 241.0L104.3 240.7L104.7 239.9L105.0 239.5L105.4 239.3L105.9 239.0L106.4 238.6L107.0 238.7L107.6 237.9L108.2 237.2L108.7 237.2L109.1 237.0L109.5 236.8L110.0 236.8L110.6 236.2L111.3 235.7L112.0 236.1L112.7 235.6L113.4 235.3L114.0 234.9L114.4 235.1L114.9 235.6L115.5 235.1L116.2 235.0L117.0 234.8L117.8 235.5L118.6 234.8L119.4 234.9L120.1 234.9L120.7 235.2L121.2 235.0L121.5 234.6L122.1 234.3L122.8 234.2L123.4 233.6L124.0 233.3L124.5 232.6L124.9 232.6L125.5 233.4L126.2 233.5L127.0 233.7L127.7 233.7L128.4 234.6L129.0 234.7L129.3 234.5L129.8 234.6L130.3 234.8L130.9 235.0L131.6 235.7L132.3 235.3L133.0 235.5L133.7 235.9L134.4 236.4L135.0 236.3L135.6 236.0L136.1 236.6L136.5 237.0L136.9 237.0L137.4 237.2L138.0 237.2L138.6 237.1L139.3 238.0L140.0 238.0L140.7 238.1L141.3 238.2L142.0 238.8L142.6 239.2L143.2 238.8L143.6 239.0L144.0 239.2L144.5 239.3L145.0 239.8L145.7 239.9L146.4 239.4L147.1 240.0L147.8 240.1L148.5 240.4L149.1 239.9L149.6 240.1L150.0 240.7L150.5 240.9L151.0 241.0L151.6 241.3L152.2 241.3L152.9 242.2L153.5 242.6L154.0 242.4L154.5 242.7L154.9 242.7L155.4 242.8L156.1 243.4L156.8 242.9L157.6 243.0L158.3 243.2L159.0 243.6L159.6 243.3L160.1 243.0L160.5 243.4L161.1 243.9L161.7 244.2L162.3 244.6L163.0 244.4L163.5 244.9L163.9 245.3L164.5 244.9L165.3 244.6L166.1 244.1L166.9 244.6L167.6 243.9L168.3 243.8L168.8 243.8L169.2 243.9L169.7 244.6L170.3 244.8L170.9 244.7L171.6 245.5L172.2 245.9L172.8 246.3L173.2 246.3L173.6 245.9L174.1 245.9L174.8 246.4L175.4 246.1L176.2 245.9L176.9 245.4L177.7 246.0L178.4 245.5L179.0 245.3L179.6 245.1L180.0 245.1L180.4 245.5L181.0 245.4L181.7 244.8L182.4 245.0L183.2 245.0L183.9 245.1L184.7 244.4L185.3 244.8L185.9 244.7L186.4 244.7L186.8 244.7L187.4 243.8L188.1 243.6L188.6 243.5L189.0 242.9L189.3 242.3L189.7 241.7L190.1 240.9L190.5 240.2L190.8 240.1L191.1 240.7L191.5 241.6L191.9 242.0L192.4 242.3L192.8 242.6L193.1 242.5L193.5 242.0L194.1 241.9L194.7 241.5L195.4 240.3L196.0 240.1L196.5 239.8L196.8 239.6L197.3 239.6L197.8 239.2L198.4 238.3L199.1 238.5L199.8 238.2L200.5 237.9L201.2 237.0L201.9 237.1L202.5 237.0L203.1 236.4L203.6 236.1L204.0 235.8L204.4 235.5L204.9 235.8L205.5 235.7L206.1 234.8L206.8 234.7L207.5 234.4L208.2 234.6L208.8 233.7L209.5 233.3L210.1 233.4L210.7 233.2L211.1 233.1L211.5 232.8L212.0 232.1L212.5 232.1L213.2 232.3L213.9 231.7L214.6 231.2L215.3 230.8L216.0 231.1L216.6 230.4L217.1 230.0L217.5 229.9L217.9 229.6L218.4 229.4L218.9 229.5L219.5 228.6L220.1 227.9L220.7 227.8L221.2 227.4L221.6 227.4L222.0 227.4L222.5 226.8L223.1 226.5L223.9 227.0L224.6 227.0L225.4 226.8L226.0 226.4L226.5 226.9L226.9 226.9L227.5 226.2L228.1 225.8L228.8 225.1L229.5 225.2L230.1 224.8L230.6 224.0L231.0 223.8L231.5 223.6L232.1 223.4L232.8 223.2L233.4 222.7L234.0 222.5L234.4 222.4L234.9 222.2L235.5 221.9L236.2 221.7L237.0 221.6L237.8 221.4L238.5 221.1L239.1 220.6L239.6 220.0L240.0 219.6L240.5 219.2L241.0 218.9L241.5 218.7L242.0 218.6L242.5 218.6L243.0 218.6L243.4 218.6L243.9 218.5L244.5 218.2L245.2 217.7L245.9 217.2L246.6 217.1L247.3 217.3L248.0 217.7L248.6 218.1L249.0 218.2L249.4 218.2L250.0 218.0L250.6 217.4L251.3 216.7L252.0 216.1L252.7 215.8L253.4 215.8L254.0 216.0L254.6 216.2L255.0 216.3L255.4 216.3L256.0 216.1L256.6 215.6L257.3 215.0L258.0 214.5L258.7 214.3L259.4 214.4L260.0 214.7L260.6 215.0L261.0 215.1L261.4 215.1L262.0 214.8L262.6 214.3L263.3 213.6L264.0 213.0L264.7 212.7L265.4 212.8L266.0 213.1L266.6 213.3L267.0 213.4L267.4 213.4L268.0 213.3L268.6 212.9L269.3 212.4L270.0 212.0L270.7 211.9L271.4 212.1L272.0 212.5L272.6 212.8L273.0 213.0L273.4 213.0L274.0 212.9L274.6 212.4L275.3 211.8L276.0 211.2L276.7 211.0L277.4 211.1L278.0 211.4L278.6 211.7L279.0 211.8L279.4 211.8L280.0 211.7L280.6 211.3L281.3 210.7L282.0 210.2L282.7 210.0L283.4 210.2L284.0 210.6L284.6 210.9L285.0 211.0L285.4 211.0L286.0 210.8L286.7 210.3L287.4 209.6L288.1 209.0L288.8 208.8L289.5 208.9L290.1 209.2L290.6 209.4L291.0 209.5L291.6 209.4L292.3 209.0L292.9 208.4L293.5 207.9L294.0 207.7L294.5 207.9L295.1 208.5L295.7 209.3L296.4 209.9L297.0 210.2L297.4 210.1L297.9 209.9L298.5 209.8L299.2 209.7L299.9 209.5L300.6 209.4L301.3 209.2L302.0 209.1L302.6 209.0L303.0 209.0L303.4 209.0L304.0 209.1L304.6 209.1L305.3 209.2L306.0 209.3L306.7 209.4L307.4 209.5L308.0 209.6L308.6 209.7L309.0 209.8L309.4 209.8L310.0 209.8L310.6 209.9L311.3 209.9L312.0 209.9L312.7 210.0L313.4 210.0L314.0 210.1L314.6 210.1L315.0 210.2L315.4 210.3L316.0 210.4L316.6 210.6L317.3 210.8L318.0 211.0L318.7 211.3L319.4 211.5L320.0 211.7L320.6 211.9L321.0 212.0L321.4 212.1L322.0 212.3L322.6 212.6L323.3 212.8L324.0 213.1L324.7 213.3L325.4 213.6L326.0 213.8L326.6 214.1L327.0 214.2L327.4 214.5L327.9 214.7L328.4 215.0L329.0 215.4L329.7 215.8L330.3 216.2L331.0 216.6L331.6 217.0L332.1 217.4L332.6 217.7L333.0 218.0L333.3 218.2L333.6 218.6L334.1 218.9L334.5 219.4L335.0 219.8L335.5 220.3L336.0 220.9L336.5 221.4L337.0 221.9L337.5 222.4L337.9 222.9L338.4 223.3L338.7 223.7L339.0 224.0L339.3 224.3L339.6 224.6L339.9 225.1L340.3 225.5L340.7 226.0L341.1 226.6L341.6 227.1L342.1 227.7L342.5 228.2L343.0 228.8L343.4 229.3L343.8 229.9L344.2 230.3L344.5 230.8L344.8 231.2L345.0 231.5L345.2 231.9L345.5 232.3L345.8 232.8L346.1 233.3L346.4 233.9L346.8 234.5L347.1 235.1L347.5 235.7L347.9 236.4L348.2 237.0L348.5 237.6L348.8 238.1L349.1 238.7L349.4 239.1L349.6 239.5L349.8 239.8L350.0 240.2L350.3 240.7L350.6 241.2L350.9 241.7L351.2 242.3L351.5 242.9L351.9 243.5L352.2 244.1L352.6 244.7L353.0 245.4L353.3 246.0L353.7 246.6L354.0 247.1L354.3 247.7L354.5 248.2L354.8 248.6L355.0 249.0L355.2 249.3L355.4 249.7L355.6 250.1L355.8 250.6L356.1 251.1L356.4 251.7L356.7 252.3L357.0 252.9L357.3 253.5L357.6 254.2L358.0 254.8L358.3 255.5L358.6 256.2L359.0 256.8L359.3 257.4L359.6 258.1L359.9 258.6L360.1 259.2L360.4 259.7L360.6 260.2L360.8 260.6L361.0 261.0L361.2 261.3L361.4 261.8L361.6 262.2L361.8 262.7L362.0 263.2L362.3 263.8L362.6 264.4L362.9 265.1L363.1 265.7L363.4 266.4L363.8 267.1L364.1 267.8L364.4 268.4L364.7 269.1L365.0 269.8L365.2 270.4L365.5 271.1L365.8 271.7L366.0 272.3L366.3 272.8L366.5 273.3L366.7 273.7L366.9 274.2L367.0 274.5L367.2 274.9L367.3 275.3L367.5 275.8L367.7 276.4L368.0 276.9L368.2 277.5L368.4 278.2L368.7 278.8L368.9 279.5L369.2 280.2L369.4 280.8L369.7 281.5L369.9 282.2L370.2 282.8L370.4 283.5L370.6 284.1L370.8 284.6L371.0 285.2L371.2 285.7L371.4 286.1L371.5 286.5L371.6 286.9L371.8 287.3L371.9 287.8L372.1 288.3L372.3 288.9L372.4 289.5L372.6 290.1L372.8 290.8L373.1 291.5L373.3 292.2L373.5 292.9L373.7 293.6L373.9 294.3L374.1 295.0L374.3 295.7L374.5 296.4L374.7 297.0L374.9 297.6L375.1 298.2L375.2 298.7L375.4 299.2L375.5 299.6L375.6 300.0L375.7 300.4L375.9 300.9L376.0 301.4L376.2 302.0L376.3 302.6L376.5 303.2L376.7 303.9L376.9 304.5L377.1 305.2L377.3 305.9L377.5 306.6L377.7 307.3L377.9 308.0L378.1 308.7L378.3 309.3L378.4 310.0L378.6 310.5L378.8 311.1L378.9 311.6L379.0 312.0L379.1 312.4L379.2 312.8L379.3 313.2L379.5 313.7L379.6 314.3L379.8 314.9L379.9 315.5L380.1 316.2L380.3 316.8L380.4 317.5L380.6 318.2L380.8 319.0L381.0 319.7L381.2 320.4L381.3 321.1L381.5 321.8L381.7 322.5L381.9 323.2L382.0 323.9L382.2 324.5L382.3 325.1L382.4 325.6L382.6 326.1L382.7 326.6L382.8 327.0L382.8 327.4L382.9 327.8L383.0 328.3L383.1 328.8L383.2 329.4L383.3 330.0L383.5 330.6L383.6 331.2L383.7 331.9L383.8 332.6L384.0 333.3L384.1 334.0L384.2 334.8L384.3 335.5L384.5 336.2L384.6 337.0L384.7 337.7L384.9 338.4L385.0 339.1L385.1 339.8L385.2 340.4L385.3 341.0L385.4 341.6L385.5 342.1L385.6 342.6L385.7 343.1L385.8 343.5L385.8 343.9L385.9 344.3L386.0 344.8L386.1 345.3L386.1 345.9L386.2 346.5L386.3 347.2L386.5 347.8L386.6 348.5L386.7 349.3L386.8 350.0L386.9 350.8L387.0 351.5L387.2 352.3L387.3 353.1L387.4 353.8L387.5 354.6L387.6 355.3L387.8 356.0L387.9 356.7L388.0 357.4L388.1 358.0L388.2 358.6L388.3 359.2L388.3 359.7L388.4 360.2L388.5 360.6L388.5 360.9L388.6 361.2L388.6 361.4" stroke="#ad0000" stroke-width="1.6"/>
<path d="M89.6 361.4L89.7 361.1L89.9 360.7L90.1 360.3L90.3 359.9L90.6 359.4L90.8 358.8L91.1 358.3L91.4 357.7L91.7 357.1L92.0 356.4L92.3 355.8L92.6 355.2L92.9 354.5L93.3 353.9L93.6 353.3L93.9 352.6L94.2 352.1L94.5 351.5L94.8 351.0L95.1 350.4L95.4 349.9L95.7 349.4L96.0 348.8L96.4 348.3L96.7 347.8L97.0 347.2L97.3 346.7L97.7 346.2L98.0 345.6L98.3 345.1L98.7 344.6L99.0 344.0L99.3 343.4L99.7 342.9L100.0 342.3L100.3 341.7L100.6 341.2L100.8 340.7L101.1 340.1L101.4 339.6L101.7 339.0L101.9 338.5L102.2 337.9L102.5 337.4L102.7 336.8L103.0 336.2L103.3 335.7L103.5 335.1L103.8 334.5L104.1 334.0L104.4 333.4L104.6 332.8L104.9 332.2L105.2 331.7L105.4 331.1L105.7 330.6L106.0 330.0L106.3 329.5L106.6 328.9L106.8 328.4L107.1 327.9L107.4 327.3L107.6 326.8L107.9 326.3L108.2 325.8L108.5 325.3L108.7 324.7L109.0 324.2L109.3 323.7L109.6 323.1L109.9 322.6L110.2 322.1L110.5 321.5L110.8 320.9L111.1 320.3L111.4 319.7L111.7 319.1L112.0 318.5L112.2 318.0L112.5 317.5L112.7 317.0L113.0 316.5L113.3 315.9L113.5 315.4L113.8 314.8L114.1 314.3L114.4 313.7L114.6 313.1L114.9 312.5L115.2 312.0L115.5 311.4L115.8 310.8L116.0 310.2L116.3 309.6L116.6 309.1L116.9 308.5L117.1 307.9L117.4 307.3L117.7 306.8L118.0 306.2L118.2 305.7L118.5 305.2L118.8 304.7L119.0 304.2L119.3 303.7L119.5 303.2L119.8 302.6L120.2 301.9L120.5 301.3L120.8 300.8L121.1 300.2L121.4 299.6L121.7 299.1L122.0 298.6L122.3 298.1L122.6 297.5L122.9 297.0L123.2 296.5L123.5 296.0L123.7 295.6L124.0 295.1L124.3 294.6L124.6 294.1L124.9 293.5L125.2 293.0L125.5 292.5L125.8 292.0L126.1 291.4L126.4 290.9L126.7 290.4L127.0 289.9L127.3 289.3L127.6 288.8L127.9 288.3L128.2 287.8L128.5 287.2L128.8 286.7L129.1 286.2L129.4 285.7L129.7 285.1L130.0 284.6L130.3 284.1L130.6 283.6L130.9 283.0L131.2 282.5L131.5 282.0L131.8 281.5L132.1 280.9L132.4 280.4L132.7 279.9L133.0 279.3L133.3 278.8L133.6 278.3L133.9 277.7L134.2 277.2L134.5 276.7L134.8 276.1L135.1 275.6L135.4 275.1L135.7 274.5L136.0 274.0L136.3 273.5L136.6 273.0L136.9 272.5L137.2 272.0L137.5 271.5L137.8 271.0L138.2 270.4L138.5 269.9L138.9 269.4L139.2 268.8L139.6 268.3L139.9 267.8L140.2 267.3L140.6 266.8L140.9 266.3L141.3 265.8L141.6 265.3L141.9 264.8L142.3 264.3L142.6 263.9L142.9 263.4L143.2 262.9L143.5 262.5L143.9 261.9L144.3 261.2L144.7 260.6L145.1 259.9L145.5 259.2L145.8 258.6L146.2 258.0L146.5 257.4L146.8 256.9L147.2 256.5L147.5 256.1L147.7 255.7L148.0 255.5L148.5 255.7L148.8 256.9L149.2 257.9L150.0 257.6L150.2 257.4L150.4 257.1L150.7 256.7L150.9 256.3L151.2 255.9L151.5 255.4L151.8 254.9L152.1 254.4L152.4 253.9L152.7 253.3L153.1 252.7L153.4 252.1L153.7 251.5L154.1 250.8L154.4 250.2L154.8 249.6L155.1 248.9L155.5 248.3L155.8 247.7L156.2 247.1L156.5 246.6L156.9 246.0L157.2 245.5L157.5 245.0L157.9 244.5L158.2 243.9L158.6 243.4L158.9 242.9L159.3 242.4L159.6 241.8L159.9 241.3L160.3 240.8L160.6 240.3L161.0 239.9L161.3 239.4L161.7 238.9L162.0 238.4L162.4 237.9L162.7 237.5L163.1 237.0L163.5 236.5L163.8 236.1L164.2 235.6L164.6 235.2L165.0 234.7L165.4 234.2L165.9 233.7L166.3 233.3L166.8 232.8L167.2 232.3L167.7 231.9L168.2 231.4L168.6 230.9L169.1 230.5L169.6 230.0L170.1 229.6L170.5 229.1L171.0 228.7L171.5 228.3L171.9 227.8L172.4 227.4L172.8 227.0L173.2 226.6L173.6 226.3L174.0 225.9L174.6 225.4L175.1 224.8L175.6 224.3L176.1 223.9L176.5 223.4L177.0 223.0L177.4 222.5L177.8 222.1L178.3 221.7L178.7 221.4L179.1 221.0L179.5 220.6L180.0 220.2L180.5 219.8L181.1 219.4L181.6 219.0L182.2 218.7L182.7 218.3L183.3 218.0L183.8 217.6L184.4 217.3L184.9 217.0L185.5 216.8L186.0 216.5L186.6 216.2L187.2 216.0L187.8 215.8L188.4 215.6L189.0 215.4L189.6 215.2L190.2 215.1L190.8 214.9L191.4 214.8L192.0 214.7L192.6 214.6L193.2 214.5L193.8 214.4L194.4 214.4L195.0 214.3L195.6 214.3L196.2 214.3L196.8 214.2L197.4 214.2L198.0 214.2L198.6 214.3L199.2 214.3L199.8 214.3L200.4 214.4L201.0 214.4L201.6 214.5L202.2 214.6L202.8 214.7L203.4 214.8L204.0 215.0L204.6 215.2L205.1 215.4L205.7 215.6L206.2 215.9L206.8 216.2L207.4 216.5L207.9 216.8L208.5 217.1L209.0 217.4L209.5 217.7L210.0 218.0L210.6 218.4L211.2 218.9L211.8 219.3L212.3 219.8L212.9 220.3L213.4 220.8L213.8 221.2L214.2 221.5L214.5 221.8" stroke="#ff0000" stroke-width="1.2" stroke-dasharray="0.95 1.9"/>
<path d="M54.5 289.5L54.6 289.2L54.8 288.8L54.9 288.4L55.1 287.9L55.3 287.3L55.5 286.8L55.7 286.2L55.9 285.5L56.1 284.9L56.4 284.2L56.6 283.6L56.9 282.9L57.1 282.2L57.3 281.6L57.6 280.9L57.8 280.3L58.0 279.7L58.2 279.1L58.4 278.5L58.6 277.9L58.8 277.4L59.0 276.8L59.2 276.2L59.4 275.6L59.6 275.0L59.8 274.4L60.0 273.8L60.2 273.2L60.4 272.6L60.6 272.1L60.8 271.5L61.0 270.9L61.3 270.4L61.5 269.8L61.8 269.3L62.0 268.7L62.3 268.2L62.6 267.7L62.9 267.1L63.2 266.6L63.5 266.1L63.8 265.6L64.1 265.1L64.4 264.6L64.7 264.1L65.1 263.5L65.4 263.0L65.7 262.5L65.9 262.0L66.2 261.4L66.5 260.9L66.8 260.4L67.0 259.8L67.3 259.2L67.5 258.7L67.7 258.1L68.0 257.5L68.2 257.0L68.4 256.4L68.6 255.8L68.9 255.2L69.1 254.7L69.3 254.1L69.5 253.5L69.8 253.0L70.0 252.4L70.3 251.9L70.5 251.3L70.8 250.7L71.0 250.1L71.3 249.5L71.6 249.0L71.9 248.4L72.2 247.8L72.4 247.2L72.7 246.6L73.0 246.0L73.3 245.5L73.6 244.9L73.9 244.4L74.1 243.8L74.4 243.3L74.7 242.8L75.0 242.3L75.3 241.7L75.7 241.1L76.0 240.6L76.4 240.1L76.7 239.5L77.1 239.0L77.4 238.5L77.8 238.1L78.1 237.6L78.5 237.1L78.8 236.6L79.2 236.2L79.5 235.7L79.9 235.2L80.3 234.6L80.7 234.1L81.1 233.6L81.5 233.1L81.9 232.6L82.3 232.2L82.7 231.7L83.1 231.2L83.5 230.6L84.0 230.1L84.4 229.7L84.8 229.2L85.2 228.8L85.6 228.3L86.0 227.9L86.5 227.4L86.9 227.0L87.3 226.5L87.8 226.0L88.2 225.6L88.7 225.1L89.1 224.6L89.6 224.2L90.0 223.7L90.4 223.2L90.9 222.7L91.3 222.2L91.8 221.7L92.3 221.2L92.7 220.6L93.2 220.1L93.6 219.6L94.1 219.1L94.5 218.6L94.9 218.2L95.3 217.8L95.7 217.4L96.0 217.1L96.7 216.5L97.3 216.1L97.7 216.0L98.3 215.8L99.0 215.5L99.5 215.3L100.0 215.1L100.5 214.8L101.0 214.6L101.6 214.4L102.2 214.1L102.9 213.8L103.6 213.6L104.3 213.3L105.0 213.0L105.5 212.8L106.0 212.6L106.6 212.3L107.2 212.0L107.8 211.8L108.4 211.5L109.0 211.2L109.6 210.9L110.3 210.7L110.9 210.5L111.5 210.2L112.2 210.1L112.8 209.9L113.4 209.8L114.0 209.8L114.6 209.7L115.2 209.8L115.8 209.8L116.4 209.9L117.0 210.0L117.6 210.1L118.2 210.3L118.8 210.4L119.4 210.6L120.0 210.8L120.6 211.0L121.2 211.3L121.8 211.5L122.4 211.8L123.0 212.0L123.5 212.2L124.1 212.5L124.6 212.7L125.1 213.0L125.6 213.2L126.2 213.5L126.7 213.8L127.2 214.1L127.8 214.4L128.3 214.7L128.8 215.1L129.4 215.4L129.9 215.7L130.4 216.1L130.9 216.5L131.5 216.9L132.0 217.2L132.5 217.6L132.9 218.0L133.4 218.3L133.8 218.7L134.3 219.2L134.8 219.6L135.3 220.0L135.7 220.4L136.2 220.9L136.7 221.3L137.2 221.8L137.6 222.2L138.1 222.7L138.5 223.1L139.0 223.5L139.4 223.9L139.8 224.4L140.2 224.8L140.6 225.1L141.0 225.5L141.5 226.0L142.0 226.5L142.5 226.9L143.0 227.4L143.4 227.8L143.9 228.2L144.3 228.6L144.7 229.0L145.1 229.4L145.5 229.8L145.9 230.2L146.2 230.6L146.6 231.1L147.0 231.5L147.4 232.0L147.8 232.5L148.1 233.0L148.4 233.5L148.8 234.0L149.1 234.5L149.4 235.0L149.7 235.5L150.1 236.0L150.4 236.6L150.7 237.1L151.1 237.7L151.5 238.2L151.8 238.7L152.1 239.2L152.5 239.6L152.8 240.1L153.2 240.6L153.5 241.0L153.9 241.5L154.2 242.0L154.6 242.5L155.0 243.0L155.3 243.5L155.7 244.0L156.1 244.5L156.4 245.0L156.8 245.5L157.1 246.0L157.5 246.5L157.8 247.0L158.2 247.5L158.6 248.0L158.9 248.5L159.3 249.0L159.6 249.5L160.0 250.0L160.3 250.5L160.7 251.0L161.0 251.5L161.4 252.0L161.7 252.5L162.0 253.0L162.4 253.5L162.7 254.0L163.0 254.5L163.3 255.0L163.6 255.6L163.9 256.1L164.2 256.7L164.5 257.2L164.7 257.8L165.0 258.4L165.2 259.0L165.5 259.6L165.7 260.1L166.0 260.7L166.2 261.3L166.5 261.8L166.7 262.4L167.0 262.9L167.2 263.5L167.5 264.0L167.8 264.6L168.1 265.1L168.4 265.7L168.8 266.2L169.1 266.7L169.4 267.2L169.7 267.7L170.1 268.2L170.4 268.7L170.7 269.2L171.0 269.7L171.4 270.3L171.7 270.9L172.0 271.5L172.2 272.0L172.5 272.5L172.7 273.0L173.0 273.5L173.2 274.0L173.4 274.6L173.7 275.1L173.9 275.7L174.2 276.3L174.4 276.8L174.7 277.4L174.9 278.0L175.1 278.6L175.4 279.2L175.6 279.7L175.8 280.3L176.1 280.9L176.3 281.4L176.5 282.0L176.7 282.6L176.9 283.2L177.2 283.8L177.4 284.5L177.6 285.1L177.8 285.8L178.0 286.4L178.2 287.0L178.4 287.7L178.6 288.3L178.8 288.9L179.0 289.5L179.2 290.1L179.4 290.6L179.6 291.1L179.8 291.6L180.0 292.1L180.2 292.5L180.7 293.3L181.2 293.9L181.7 294.3L182.2 294.6L182.7 295.0L183.2 295.3L183.6 295.7L184.0 296.2L184.3 296.8L184.5 297.3L184.7 297.8L184.9 298.4L185.1 298.9L185.3 299.6L185.5 300.2L185.6 300.9L185.9 301.7L186.1 302.5L186.2 303.0L186.4 303.5L186.5 304.1L186.7 304.6L186.9 305.2L187.0 305.9L187.2 306.5L187.4 307.1L187.5 307.8L187.7 308.4L187.9 309.1L188.1 309.7L188.2 310.4L188.4 311.0L188.6 311.6L188.8 312.2L188.9 312.8L189.1 313.3L189.3 314.0L189.5 314.6L189.7 315.3L189.9 315.9L190.1 316.6L190.3 317.2L190.6 317.8L190.8 318.4L191.0 319.0L191.2 319.5L191.4 320.0L191.6 320.5L191.8 321.0L192.0 321.5L192.3 322.1L192.7 322.7L193.0 323.1L193.4 323.5L193.8 323.9L194.1 324.3L194.4 324.8L194.7 325.3L195.0 326.0L195.1 326.5L195.3 327.0L195.4 327.5L195.5 328.0L195.6 328.6L195.7 329.2L195.8 329.8L195.9 330.4L196.0 331.1L196.1 331.7L196.1 332.4L196.2 333.0L196.3 333.7L196.4 334.3L196.5 335.0L196.6 335.6L196.7 336.2L196.7 336.8L196.8 337.4L196.9 338.1L197.0 338.7L197.0 339.4L197.1 340.0L197.2 340.7L197.3 341.3L197.4 342.0L197.4 342.6L197.5 343.2L197.6 343.8L197.8 344.4L197.9 345.0L198.0 345.5L198.2 346.2L198.4 346.8L198.6 347.4L198.8 348.0L199.0 348.6L199.3 349.1L199.5 349.7L199.8 350.2L200.0 350.7L200.3 351.3L200.5 351.8L200.8 352.4L201.0 353.0L201.2 353.6L201.5 354.1L201.7 354.8L201.9 355.4L202.2 356.0L202.5 356.7L202.7 357.3L203.0 358.0L203.2 358.6L203.4 359.2L203.6 359.7L203.8 360.2L204.0 360.7L204.2 361.1L204.3 361.4" stroke="#ff0000" stroke-width="1.7" stroke-dasharray="3 2.2"/>
<path d="M54.5 288.0L54.6 287.9L55.0 286.9L55.1 286.6L55.2 286.2L55.4 285.7L55.6 285.2L55.8 284.6L56.0 283.9L56.2 283.2L56.5 282.5L56.7 281.8L56.9 281.1L57.2 280.4L57.4 279.8L57.6 279.1L57.8 278.5L58.0 278.0L58.2 277.5L58.3 277.0L58.5 276.5L58.7 275.9L58.9 275.3L59.1 274.7L59.3 274.0L59.5 273.4L59.8 272.7L60.0 272.1L60.2 271.4L60.4 270.8L60.7 270.2L60.9 269.6L61.1 269.1L61.3 268.6L61.5 268.1L61.7 267.6L62.0 267.2L62.2 266.6L62.5 266.2L62.8 265.7L63.1 265.1L63.5 264.5L63.8 263.9L64.1 263.4L64.5 262.7L64.8 261.9L65.1 261.5L65.4 261.3L65.7 261.0L66.0 260.5L66.3 259.8L66.5 259.1L66.7 258.6L66.9 258.1L67.2 257.6L67.4 257.1L67.7 256.4L67.9 255.8L68.1 255.2L68.4 254.8L68.6 254.4L68.9 253.8L69.1 253.0L69.4 252.1L69.6 251.3L69.9 250.7L70.1 250.3L70.3 249.9L70.5 249.5L70.7 249.0L71.0 248.5L71.2 248.0L71.5 247.6L71.8 247.0L72.1 246.2L72.4 245.3L72.7 244.5L73.0 244.0L73.3 243.7L73.7 243.2L74.0 242.6L74.2 242.0L74.5 241.5L74.8 241.0L75.0 240.6L75.3 239.8L75.6 239.1L76.0 238.7L76.3 238.6L76.7 238.2L77.1 237.4L77.4 236.6L77.8 236.1L78.2 235.5L78.5 234.8L78.9 234.4L79.2 234.3L79.5 234.1L79.8 233.6L80.2 232.8L80.5 232.1L80.9 231.7L81.3 231.2L81.7 230.7L82.1 230.3L82.5 230.0L82.9 229.3L83.3 228.4L83.6 227.9L84.0 227.7L84.3 227.5L84.6 227.1L85.0 226.7L85.4 226.3L85.8 225.7L86.3 224.8L86.7 224.4L87.2 224.3L87.6 223.9L88.0 223.2L88.5 222.7L88.9 222.2L89.3 221.5L89.7 221.1L90.0 221.1L90.3 221.0L90.7 220.4L91.1 219.6L91.6 219.1L92.0 218.6L92.5 218.0L92.9 217.8L93.4 217.5L93.8 216.6L94.3 215.8L94.7 215.5L95.1 215.2L95.4 214.8L95.7 214.5L96.0 214.5L96.7 213.8L97.2 213.1L97.8 213.2L98.3 213.2L99.0 212.9L99.4 212.7L99.8 212.1L100.3 211.6L100.8 211.7L101.4 211.4L102.0 210.8L102.6 210.3L103.2 209.7L103.8 209.9L104.4 209.5L105.0 208.8L105.4 208.7L105.9 208.5L106.4 208.3L106.9 208.4L107.5 207.9L108.1 207.2L108.7 207.3L109.3 207.0L110.0 207.0L110.6 206.3L111.3 205.9L111.9 206.2L112.4 205.8L113.0 205.6L113.5 205.3L114.0 204.9L114.5 205.2L115.0 205.3L115.6 204.8L116.2 204.7L116.9 204.5L117.5 204.8L118.2 204.8L118.8 204.2L119.5 204.3L120.1 204.3L120.8 204.6L121.4 204.2L122.0 203.9L122.5 204.3L123.0 204.3L123.5 204.3L124.0 204.4L124.6 203.9L125.2 204.3L125.9 204.6L126.5 204.4L127.2 204.5L127.8 204.3L128.5 205.0L129.1 204.9L129.8 204.7L130.4 204.9L131.0 205.0L131.5 205.5L132.0 205.4L132.5 205.0L133.0 205.4L133.6 205.6L134.2 205.9L134.9 206.1L135.5 205.7L136.2 206.3L136.8 206.5L137.5 206.7L138.1 206.6L138.8 206.7L139.4 207.4L140.0 207.3L140.5 207.3L141.0 207.4L141.5 207.4L142.1 207.9L142.6 208.2L143.3 207.8L143.9 208.2L144.6 208.3L145.2 208.9L145.9 208.7L146.6 208.6L147.2 209.2L147.9 209.3L148.4 209.6L149.0 209.2L149.5 209.3L150.0 209.9L150.6 210.1L151.2 210.1L151.8 210.2L152.5 210.2L153.1 211.1L153.8 210.8L154.5 211.0L155.2 211.1L155.8 211.6L156.4 211.8L157.0 211.4L157.5 211.5L158.0 211.7L158.6 211.7L159.2 211.9L159.8 211.3L160.5 211.3L161.2 211.5L161.9 211.4L162.5 211.1L163.2 210.7L163.8 211.2L164.4 211.0L165.0 210.8L165.5 210.7L166.0 210.5L166.6 210.9L167.1 211.1L167.8 210.6L168.4 210.7L169.1 210.7L169.8 211.1L170.4 210.8L171.1 210.5L171.7 210.9L172.4 210.9L172.9 211.0L173.5 210.5L174.0 210.4L174.5 210.8L175.0 210.7L175.6 210.5L176.2 210.3L176.9 209.8L177.5 210.3L178.2 210.0L178.8 209.6L179.5 209.4L180.1 209.4L180.8 209.7L181.4 209.1L182.0 208.9L182.5 209.0L183.0 209.0L183.5 209.3L184.1 209.1L184.6 208.6L185.3 209.1L185.9 209.2L186.6 209.3L187.2 209.0L187.9 209.1L188.6 209.6L189.2 209.4L189.9 209.5L190.4 209.3L191.0 209.6L191.5 210.1L192.0 209.8L192.6 209.6L193.2 209.8L193.8 209.9L194.5 210.4L195.2 209.8L195.9 210.1L196.6 210.3L197.2 210.6L197.9 210.4L198.5 210.2L199.0 210.8L199.5 211.0L200.1 211.0L200.7 211.2L201.3 211.1L201.9 211.8L202.6 212.2L203.2 212.2L203.8 212.5L204.4 212.7L205.0 213.5L205.5 213.8L205.9 213.6L206.4 213.9L206.9 214.3L207.4 214.7L208.0 215.4L208.5 215.8L209.0 215.6L209.6 216.3L210.1 216.9L210.6 217.2L211.1 217.7L211.5 218.0L211.8 218.3L212.2 218.7L212.6 219.1L213.0 219.6L213.5 220.0L213.9 220.5L214.3 221.0L214.8 221.6L215.2 222.1L215.7 222.6L216.1 223.1L216.5 223.5L216.9 224.0L217.2 224.4L217.5 224.8L217.9 225.2L218.2 225.7L218.6 226.2L219.0 226.7L219.4 227.2L219.8 227.7L220.2 228.2L220.6 228.8L221.0 229.3L221.3 229.8L221.7 230.3L222.0 230.8L222.3 231.2L222.6 231.6L222.9 232.1L223.2 232.7L223.5 233.2L223.9 233.8L224.2 234.4L224.6 235.0L225.0 235.6L225.3 236.2L225.6 236.7L225.9 237.3L226.2 237.8L226.5 238.2L226.8 238.7L227.0 239.2L227.3 239.7L227.6 240.3L227.9 240.8L228.3 241.4L228.6 242.0L228.9 242.6L229.2 243.2L229.6 243.8L229.9 244.4L230.2 245.0L230.5 245.5L230.7 246.0L231.0 246.5L231.2 246.9L231.5 247.4L231.7 247.9L232.0 248.4L232.3 248.9L232.6 249.4L232.9 249.9L233.2 250.5L233.5 251.0L233.8 251.6L234.1 252.2L234.4 252.7L234.7 253.3L235.0 253.9L235.2 254.4L235.5 255.0L235.7 255.4L235.9 255.8L236.1 256.3L236.3 256.8L236.6 257.3L236.8 257.8L237.1 258.4L237.3 259.0L237.6 259.6L237.9 260.2L238.1 260.8L238.4 261.4L238.7 262.1L239.0 262.7L239.3 263.3L239.5 264.0L239.8 264.6L240.1 265.2L240.3 265.8L240.6 266.4L240.8 266.9L241.1 267.5L241.3 268.0L241.5 268.5L241.7 269.0L241.9 269.4L242.1 269.9L242.3 270.5L242.6 271.0L242.8 271.6L243.0 272.2L243.3 272.8L243.5 273.4L243.8 274.0L244.1 274.6L244.3 275.3L244.6 275.9L244.8 276.6L245.1 277.2L245.3 277.8L245.6 278.5L245.8 279.1L246.1 279.7L246.3 280.3L246.5 280.9L246.8 281.5L247.0 282.0L247.1 282.5L247.3 283.0L247.5 283.5L247.7 284.0L247.8 284.5L248.0 285.0L248.2 285.5L248.4 286.1L248.5 286.7L248.7 287.2L248.9 287.8L249.1 288.4L249.3 289.1L249.5 289.7L249.6 290.3L249.8 290.9L250.0 291.6L250.2 292.2L250.4 292.8L250.6 293.4L250.7 294.0L250.9 294.6L251.1 295.2L251.2 295.8L251.4 296.4L251.6 297.0L251.7 297.5L251.9 298.0L252.0 298.5L252.1 299.0L252.3 299.5L252.4 300.0L252.6 300.6L252.7 301.1L252.9 301.7L253.1 302.4L253.3 303.0L253.4 303.6L253.6 304.3L253.8 305.0L254.0 305.6L254.2 306.3L254.4 307.0L254.5 307.7L254.7 308.3L254.9 309.0L255.1 309.7L255.3 310.3L255.4 310.9L255.6 311.5L255.7 312.1L255.9 312.7L256.0 313.2L256.2 313.7L256.3 314.2L256.4 314.6L256.5 315.0L256.7 315.6L256.8 316.2L256.9 316.8L257.1 317.3L257.2 317.8L257.3 318.4L257.5 318.9L257.6 319.4L257.7 320.0L257.8 320.5L258.0 321.1L258.1 321.7L258.2 322.3L258.3 322.9L258.5 323.6L258.6 324.3L258.8 325.0L258.8 325.4L258.9 325.8L259.0 326.2L259.0 326.6L259.1 327.1L259.2 327.7L259.3 328.2L259.4 328.8L259.5 329.4L259.6 330.0L259.7 330.6L259.8 331.2L259.9 331.9L260.1 332.6L260.2 333.3L260.3 333.9L260.4 334.6L260.5 335.3L260.6 336.1L260.7 336.8L260.9 337.5L261.0 338.2L261.1 338.9L261.2 339.6L261.3 340.2L261.4 340.9L261.5 341.6L261.6 342.2L261.7 342.9L261.8 343.5L261.9 344.1L262.0 344.6L262.1 345.2L262.2 345.7L262.3 346.2L262.4 346.7L262.4 347.1L262.5 347.5L262.6 348.1L262.7 348.8L262.8 349.5L262.9 350.2L263.0 350.9L263.1 351.6L263.3 352.4L263.4 353.1L263.5 353.8L263.6 354.5L263.7 355.2L263.8 355.9L263.9 356.6L264.0 357.2L264.1 357.9L264.2 358.4L264.2 359.0L264.3 359.5L264.4 360.0L264.5 360.4L264.5 360.8L264.6 361.1L264.6 361.4" stroke="#ff0000" stroke-width="1.9"/>
<path d="M54.5 219.0L54.8 218.7L55.1 218.4L55.5 218.0L55.9 217.5L56.4 217.0L56.9 216.5L57.4 215.9L57.9 215.4L58.5 214.9L59.0 214.4L59.5 213.9L60.0 213.5L60.5 213.1L61.0 212.7L61.6 212.3L62.1 211.9L62.6 211.6L63.1 211.2L63.7 210.9L64.2 210.6L64.8 210.3L65.4 210.0L66.0 209.8L66.6 209.5L67.2 209.3L67.8 209.1L68.4 208.9L69.1 208.7L69.8 208.5L70.4 208.4L71.1 208.2L71.7 208.1L72.3 208.0L72.9 207.9L73.5 207.8L74.2 207.7L74.8 207.7L75.4 207.7L76.0 207.7L76.6 207.8L77.2 207.8L77.7 207.9L78.3 208.0L78.9 208.1L79.5 208.2L80.1 208.4L80.7 208.5L81.3 208.7L81.9 208.9L82.5 209.1L83.1 209.4L83.7 209.6L84.3 209.9L84.9 210.2L85.5 210.5L86.0 210.8L86.5 211.1L87.0 211.4L87.5 211.7L88.0 212.1L88.5 212.4L89.0 212.8L89.5 213.2L90.0 213.6L90.5 214.1L91.0 214.5L91.5 215.0L91.9 215.4L92.2 215.8L92.6 216.2L93.0 216.6L93.4 217.0L93.8 217.5L94.1 218.0L94.5 218.4L94.9 218.9L95.2 219.4L95.6 219.9L96.0 220.4L96.4 220.9L96.8 221.4L97.1 222.0L97.5 222.5L97.8 223.0L98.1 223.4L98.5 223.9L98.8 224.4L99.1 224.9L99.4 225.4L99.8 226.0L100.1 226.5L100.4 227.0L100.8 227.5L101.1 228.1L101.4 228.6L101.7 229.1L102.0 229.7L102.3 230.2L102.6 230.7L102.9 231.2L103.2 231.8L103.5 232.2L103.8 232.8L104.1 233.4L104.4 233.9L104.7 234.4L105.0 235.0L105.2 235.5L105.5 236.0L105.8 236.5L106.0 237.0L106.3 237.6L106.6 238.1L106.8 238.7L107.1 239.3L107.4 239.9L107.7 240.6L108.0 241.2L108.2 241.7L108.4 242.2L108.7 242.7L108.9 243.3L109.1 243.8L109.3 244.3L109.6 244.9L109.8 245.4L110.0 246.0L110.3 246.6L110.5 247.2L110.8 247.8L111.0 248.3L111.3 248.9L111.5 249.5L111.7 250.1L112.0 250.8L112.2 251.4L112.5 252.0L112.7 252.6L113.0 253.2L113.2 253.8L113.5 254.4L113.7 255.0L113.9 255.6L114.1 256.1L114.4 256.7L114.6 257.2L114.8 257.8L115.0 258.4L115.3 258.9L115.5 259.5L115.7 260.1L115.9 260.7L116.2 261.3L116.4 261.8L116.6 262.4L116.9 263.0L117.1 263.6L117.3 264.2L117.5 264.8L117.8 265.3L118.0 265.9L118.2 266.5L118.4 267.1L118.6 267.7L118.9 268.3L119.1 268.8L119.3 269.4L119.5 270.0L119.7 270.6L119.9 271.2L120.1 271.7L120.3 272.3L120.5 272.9L120.7 273.4L121.0 274.0L121.2 274.6L121.4 275.2L121.6 275.7L121.8 276.3L122.0 276.9L122.2 277.4L122.4 278.0L122.6 278.6L122.8 279.2L123.0 279.7L123.2 280.3L123.4 280.9L123.5 281.5L123.7 282.1L123.9 282.6L124.1 283.2L124.3 283.8L124.5 284.4L124.8 285.0L124.9 285.6L125.1 286.1L125.3 286.7L125.5 287.2L125.7 287.8L125.9 288.4L126.1 289.0L126.3 289.5L126.5 290.1L126.7 290.7L126.9 291.3L127.1 291.9L127.3 292.4L127.5 293.0L127.7 293.6L127.9 294.2L128.0 294.8L128.2 295.4L128.4 295.9L128.6 296.5L128.8 297.1L129.0 297.7L129.2 298.2L129.3 298.8L129.5 299.3L129.7 299.9L129.8 300.5L130.0 301.0L130.2 301.6L130.4 302.3L130.5 302.9L130.7 303.5L130.9 304.1L131.1 304.7L131.2 305.3L131.4 305.9L131.5 306.5L131.7 307.0L131.9 307.6L132.0 308.2L132.2 308.8L132.3 309.4L132.5 310.0L132.6 310.6L132.8 311.2L132.9 311.8L133.0 312.4L133.2 313.0L133.3 313.6L133.5 314.2L133.6 314.9L133.8 315.5L133.9 316.1L134.0 316.7L134.1 317.3L134.2 317.9L134.4 318.5L134.5 319.1L134.6 319.7L134.7 320.3L134.8 320.9L134.9 321.5L135.1 322.2L135.2 322.8L135.3 323.4L135.4 324.0L135.5 324.7L135.6 325.3L135.7 325.9L135.8 326.5L135.9 327.2L136.0 327.8L136.1 328.4L136.3 329.0L136.4 329.6L136.5 330.2L136.6 330.8L136.7 331.4L136.8 332.0L136.9 332.6L137.0 333.3L137.1 333.9L137.2 334.5L137.3 335.1L137.3 335.7L137.4 336.3L137.5 336.9L137.6 337.5L137.7 338.1L137.8 338.7L137.9 339.3L138.0 339.9L138.1 340.5L138.2 341.1L138.2 341.7L138.3 342.3L138.4 342.9L138.5 343.5L138.6 344.1L138.7 344.6L138.8 345.2L138.8 345.8L138.9 346.4L139.0 347.0L139.1 347.6L139.2 348.3L139.3 348.9L139.4 349.6L139.5 350.3L139.5 351.0L139.6 351.7L139.7 352.4L139.8 353.1L139.9 353.8L140.0 354.5L140.1 355.1L140.2 355.8L140.3 356.5L140.3 357.1L140.4 357.7L140.5 358.3L140.6 358.8L140.6 359.4L140.7 359.8L140.8 360.3L140.8 360.7L140.9 361.1L140.9 361.4" stroke="#ff8c8c" stroke-width="1.2"/>
<path d="M54.5 223.2L54.8 222.9L55.1 222.6L55.5 222.2L55.9 221.8L56.4 221.3L56.9 220.8L57.4 220.3L57.9 219.8L58.5 219.3L59.0 218.8L59.5 218.4L60.0 218.0L60.5 217.6L61.0 217.2L61.6 216.8L62.1 216.5L62.6 216.1L63.1 215.8L63.7 215.4L64.2 215.1L64.8 214.8L65.4 214.5L66.0 214.2L66.5 214.0L67.1 213.7L67.7 213.5L68.2 213.3L68.8 213.1L69.4 212.9L70.1 212.7L70.7 212.5L71.3 212.3L71.8 212.2L72.4 212.0L73.0 211.9L73.5 211.8L74.2 211.7L74.8 211.6L75.4 211.6L76.0 211.6L76.6 211.6L77.2 211.6L77.7 211.7L78.3 211.7L78.9 211.8L79.5 211.9L80.1 212.0L80.7 212.1L81.3 212.2L81.9 212.4L82.5 212.5L83.1 212.7L83.7 212.9L84.3 213.1L84.9 213.3L85.5 213.6L86.1 213.9L86.6 214.1L87.2 214.5L87.8 214.8L88.4 215.1L88.9 215.5L89.5 215.9L90.0 216.2L90.6 216.6L91.0 216.9L91.5 217.2L92.1 217.7L92.7 218.1L93.2 218.6L93.7 219.0L94.1 219.4L94.6 219.8L95.0 220.2L95.5 220.6L95.9 220.8L96.3 221.1L96.8 221.6L97.5 222.5L97.7 222.8L98.0 223.2L98.3 223.6L98.6 224.1L98.9 224.6L99.2 225.1L99.5 225.6L99.9 226.1L100.2 226.7L100.5 227.2L100.9 227.8L101.2 228.4L101.6 229.0L101.9 229.5L102.3 230.1L102.6 230.7L102.9 231.2L103.2 231.7L103.5 232.2L103.8 232.8L104.1 233.4L104.4 233.9L104.7 234.4L105.0 235.0L105.2 235.5L105.5 236.0L105.8 236.5L106.0 237.0L106.3 237.6L106.6 238.1L106.8 238.7L107.1 239.3L107.4 239.9L107.7 240.6L108.0 241.2L108.2 241.7L108.4 242.2L108.7 242.7L108.9 243.3L109.1 243.8L109.3 244.3L109.6 244.9L109.8 245.4L110.0 246.0L110.3 246.6L110.5 247.2L110.8 247.8L111.0 248.3L111.3 248.9L111.5 249.5L111.7 250.1L112.0 250.8L112.2 251.4L112.5 252.0L112.7 252.6L113.0 253.2L113.2 253.8L113.5 254.4L113.7 255.0L113.9 255.6L114.1 256.1L114.4 256.7L114.6 257.2L114.8 257.8L115.0 258.4L115.3 258.9L115.5 259.5L115.7 260.1L115.9 260.7L116.2 261.3L116.4 261.8L116.6 262.4L116.9 263.0L117.1 263.6L117.3 264.2L117.5 264.8L117.8 265.3L118.0 265.9L118.2 266.5L118.4 267.1L118.6 267.7L118.9 268.3L119.1 268.8L119.3 269.4L119.5 270.0L119.7 270.6L119.9 271.2L120.1 271.7L120.3 272.3L120.5 272.9L120.7 273.4L121.0 274.0L121.2 274.6L121.4 275.2L121.6 275.7L121.8 276.3L122.0 276.9L122.2 277.4L122.4 278.0L122.6 278.6L122.8 279.2L123.0 279.7L123.2 280.3L123.4 280.9L123.5 281.5L123.7 282.1L123.9 282.6L124.1 283.2L124.3 283.8L124.5 284.4L124.8 285.0L124.9 285.6L125.1 286.1L125.3 286.7L125.5 287.2L125.7 287.8L125.9 288.4L126.1 289.0L126.3 289.5L126.5 290.1L126.7 290.7L126.9 291.3L127.1 291.9L127.3 292.4L127.5 293.0L127.7 293.6L127.9 294.2L128.0 294.8L128.2 295.4L128.4 295.9L128.6 296.5L128.8 297.1L129.0 297.7L129.2 298.2L129.3 298.8L129.5 299.3L129.7 299.9L129.8 300.5L130.0 301.0L130.2 301.6L130.4 302.3L130.5 302.9L130.7 303.5L130.9 304.1L131.1 304.7L131.2 305.3L131.4 305.9L131.5 306.5L131.7 307.0L131.9 307.6L132.0 308.2L132.2 308.8L132.3 309.4L132.5 310.0L132.6 310.6L132.8 311.2L132.9 311.8L133.0 312.4L133.2 313.0L133.3 313.6L133.5 314.2L133.6 314.9L133.8 315.5L133.9 316.1L134.0 316.7L134.1 317.3L134.2 317.9L134.4 318.5L134.5 319.1L134.6 319.7L134.7 320.3L134.8 320.9L134.9 321.5L135.1 322.2L135.2 322.8L135.3 323.4L135.4 324.0L135.5 324.7L135.6 325.3L135.7 325.9L135.8 326.5L135.9 327.2L136.0 327.8L136.1 328.4L136.3 329.0L136.4 329.6L136.5 330.2L136.6 330.8L136.7 331.4L136.8 332.0L136.9 332.6L137.0 333.3L137.1 333.9L137.2 334.5L137.3 335.1L137.3 335.7L137.4 336.3L137.5 336.9L137.6 337.5L137.7 338.1L137.8 338.7L137.9 339.3L138.0 339.9L138.1 340.5L138.2 341.1L138.2 341.7L138.3 342.3L138.4 342.9L138.5 343.5L138.6 344.1L138.7 344.6L138.8 345.2L138.8 345.8L138.9 346.4L139.0 347.0L139.1 347.6L139.2 348.3L139.3 348.9L139.4 349.6L139.5 350.3L139.5 351.0L139.6 351.7L139.7 352.4L139.8 353.1L139.9 353.8L140.0 354.5L140.1 355.1L140.2 355.8L140.3 356.5L140.3 357.1L140.4 357.7L140.5 358.3L140.6 358.8L140.6 359.4L140.7 359.8L140.8 360.3L140.8 360.7L140.9 361.1L140.9 361.4" stroke="#ff6464" stroke-width="1.1" stroke-dasharray="0.9 1.5"/>
<path d="M54.5 347.0L54.9 347.0L55.3 347.0L55.8 347.0L56.4 347.0L57.0 346.9L57.7 346.9L58.4 346.9L59.1 346.9L59.9 346.9L60.6 346.9L61.3 346.8L62.0 346.8L62.6 346.8L63.2 346.7L63.9 346.6L64.5 346.5L65.2 346.4L65.9 346.3L66.5 346.2L67.2 346.1L67.8 346.1L68.4 346.0L69.0 346.0L69.6 346.1L70.1 346.2L70.5 346.3L71.0 346.6L71.4 346.9L71.7 347.3L72.0 347.8L72.2 348.4L72.4 348.9L72.6 349.5L72.8 350.2L73.1 350.8L73.5 351.5L73.8 351.9L74.1 352.4L74.4 353.0L74.8 353.5L75.1 354.1L75.5 354.7L75.9 355.3L76.2 355.8L76.6 356.4L77.0 357.0L77.3 357.6L77.7 358.1L78.0 358.6L78.3 359.0L78.5 359.4L78.8 359.8L79.5 360.9L79.7 361.2L79.8 361.4" stroke="#ff6464" stroke-width="1.4" stroke-dasharray="2.6 2"/>
<path d="M54.5 116.0L54.6 115.8L54.8 115.6L54.9 115.3L55.2 114.9L55.4 114.5L55.7 114.0L56.1 113.5L56.4 112.9L56.8 112.3L57.2 111.7L57.6 111.0L58.0 110.4L58.4 109.7L58.9 109.0L59.3 108.3L59.7 107.6L60.1 106.9L60.6 106.3L61.0 105.6L61.4 105.0L61.7 104.4L62.1 103.9L62.4 103.4L62.7 102.9L63.0 102.5L63.2 102.2L63.4 101.9L63.6 101.7L63.9 101.3L64.4 100.9L64.9 100.5L65.4 100.1L66.0 99.6L66.6 99.2L67.2 98.8L67.8 98.4L68.3 98.0L68.8 97.7L69.3 97.4L69.7 97.2L70.0 97.0L70.3 96.8L70.8 96.5L71.3 96.2L71.9 95.9L72.6 95.5L73.3 95.2L74.0 94.8L74.7 94.5L75.4 94.2L76.0 94.0L76.5 93.8L77.0 93.7L77.3 93.7L77.7 93.7L78.2 93.7L78.7 93.7L79.3 93.8L80.0 93.8L80.8 93.9L81.5 93.9L82.3 94.0L83.1 94.1L83.9 94.2L84.7 94.3L85.5 94.4L86.3 94.4L87.0 94.5L87.7 94.6L88.3 94.7L88.9 94.8L89.3 94.9L89.7 94.9L90.0 95.0L90.5 95.2L91.0 95.4L91.6 95.7L92.2 96.1L92.9 96.5L93.5 96.9L94.1 97.3L94.7 97.7L95.2 98.0L95.6 98.3L96.0 98.5L96.3 98.7L96.8 98.9L97.3 99.2L97.9 99.6L98.6 99.9L99.3 100.3L100.0 100.7L100.7 101.1L101.4 101.4L102.1 101.6L102.7 101.9L103.2 102.0L103.6 102.0L103.9 102.0L104.3 101.8L104.7 101.7L105.3 101.5L105.8 101.2L106.5 101.0L107.1 100.7L107.8 100.3L108.6 100.0L109.3 99.7L110.0 99.3L110.7 98.9L111.3 98.6L111.9 98.3L112.5 98.0L113.0 97.7L113.4 97.4L113.8 97.2L114.0 97.0L114.3 96.7L114.6 96.3L114.9 95.8L115.3 95.3L115.6 94.6L115.9 94.0L116.3 93.3L116.6 92.7L116.9 92.0L117.2 91.4L117.5 90.9L117.8 90.4L118.0 90.0L118.2 89.7L118.4 89.4L118.7 89.0L119.0 88.6L119.3 88.1L119.7 87.5L120.1 86.9L120.6 86.3L121.0 85.7L121.5 85.0L121.9 84.4L122.4 83.8L122.8 83.1L123.2 82.6L123.6 82.0L124.0 81.5L124.3 81.0L124.6 80.6L124.8 80.3L125.0 80.0L125.2 79.7L125.5 79.2L125.8 78.7L126.2 78.2L126.5 77.6L126.9 76.9L127.3 76.3L127.7 75.6L128.1 75.0L128.5 74.3L128.9 73.7L129.2 73.2L129.5 72.7L129.8 72.3L130.0 72.0L130.2 71.7L130.5 71.3L130.8 70.9L131.2 70.4L131.6 69.9L132.0 69.3L132.5 68.7L133.0 68.1L133.4 67.4L133.9 66.8L134.3 66.3L134.8 65.7L135.2 65.2L135.5 64.7L135.8 64.3L136.0 64.0L136.2 63.7L136.4 63.4L136.7 63.0L137.0 62.5L137.3 62.0L137.7 61.4L138.0 60.8L138.4 60.2L138.8 59.5L139.2 58.9L139.6 58.2L140.0 57.6L140.3 56.9L140.7 56.3L141.0 55.8L141.3 55.2L141.6 54.8L141.8 54.4L142.0 54.0L142.1 53.7L142.3 53.4L142.5 53.0L142.7 52.5L142.9 52.0L143.2 51.4L143.4 50.8L143.7 50.2L144.0 49.5L144.3 48.8L144.6 48.1L144.9 47.4L145.1 46.7L145.4 46.0L145.7 45.3L146.0 44.6L146.3 43.9L146.6 43.3L146.8 42.7L147.1 42.1L147.3 41.6L147.5 41.1L147.7 40.7L147.9 40.3L148.0 40.0L148.2 39.7L148.3 39.3L148.6 38.8L148.8 38.3L149.1 37.8L149.4 37.2L149.7 36.6L150.0 35.9L150.3 35.3L150.7 34.6L151.0 33.9L151.3 33.2L151.7 32.6L152.0 31.9L152.3 31.3L152.6 30.7L152.9 30.1L153.2 29.6L153.4 29.1L153.7 28.7L153.8 28.3L154.0 28.0L154.2 27.7L154.4 27.3L154.6 26.8L154.9 26.2L155.2 25.7L155.5 25.0L155.9 24.3L156.3 23.6L156.6 22.9L157.0 22.2L157.4 21.5L157.7 20.8L158.1 20.1L158.4 19.4L158.8 18.8L159.1 18.2L159.3 17.7L159.6 17.2L159.8 16.9L159.9 16.6L160.0 16.4" stroke="#0000ff" stroke-width="1.6"/>
<path d="M54.5 284.2L54.6 283.9L54.8 283.5L54.9 283.1L55.1 282.6L55.3 282.0L55.5 281.4L55.8 280.8L56.0 280.1L56.3 279.4L56.5 278.7L56.8 278.0L57.0 277.5L57.1 277.0L57.3 276.5L57.5 275.9L57.7 275.3L57.9 274.7L58.1 274.1L58.3 273.5L58.5 272.9L58.7 272.3L58.9 271.7L59.1 271.1L59.4 270.4L59.6 269.8L59.8 269.2L60.1 268.7L60.3 268.1L60.6 267.5L60.8 266.9L61.1 266.3L61.4 265.7L61.8 265.1L62.1 264.6L62.4 264.0L62.7 263.4L63.0 262.8L63.4 262.3L63.7 261.7L64.0 261.2L64.3 260.7L64.5 260.2L64.8 259.7L65.0 259.2L65.3 258.5L65.6 257.8L65.9 257.2L66.1 256.6L66.3 256.0L66.5 255.5L66.7 254.9L66.9 254.4L67.1 253.9L67.3 253.3L67.6 252.7L67.8 252.0L68.1 251.3L68.3 250.7L68.6 250.1L68.8 249.5L69.1 248.9L69.4 248.4L69.8 248.0L70.3 247.5L70.9 247.2L71.5 246.9L72.1 246.7L72.8 246.6L73.5 246.5L74.1 246.4L74.7 246.4L75.4 246.5L76.0 246.5L76.7 246.6L77.4 246.7L78.0 246.8L78.6 246.9L79.2 247.0L79.8 247.1L80.5 247.2L81.1 247.4L81.8 247.6L82.5 248.0L83.0 248.3L83.4 248.6L84.0 248.9L84.5 249.2L85.0 249.6L85.6 250.0L86.1 250.4L86.7 250.8L87.2 251.2L87.7 251.7L88.1 252.1L88.5 252.5L88.9 253.0L89.3 253.5L89.6 254.0L89.9 254.5L90.1 255.0L90.4 255.6L90.6 256.1L90.9 256.6L91.2 257.2L91.5 257.8L91.8 258.3L92.1 258.8L92.4 259.3L92.8 259.8L93.1 260.4L93.4 260.9L93.8 261.5L94.1 262.0L94.5 262.6L94.9 263.2L95.2 263.8L95.6 264.2L95.9 264.7L96.2 265.2L96.5 265.7L96.8 266.2L97.2 266.7L97.5 267.2L97.8 267.7L98.2 268.2L98.5 268.7L98.9 269.2L99.2 269.8L99.6 270.3L100.0 270.8L100.4 271.2L100.7 271.7L101.1 272.1L101.5 272.6L101.9 273.0L102.3 273.5L102.7 274.0L103.1 274.4L103.5 274.9L104.0 275.3L104.4 275.8L104.8 276.2L105.2 276.6L105.6 277.1L106.0 277.5L106.4 278.0L106.9 278.4L107.3 278.9L107.7 279.3L108.1 279.8L108.6 280.2L109.0 280.7L109.4 281.1L109.9 281.6L110.3 282.0L110.7 282.4L111.1 282.8L111.6 283.1L112.0 283.5L112.5 283.9L113.1 284.4L113.6 284.8L114.2 285.1L114.7 285.5L115.3 285.9L115.8 286.2L116.4 286.5L116.9 286.8L117.5 287.0L118.0 287.2L118.6 287.5L119.2 287.7L119.8 287.8L120.4 287.9L121.0 288.0L121.6 288.1L122.2 288.2L122.8 288.2L123.4 288.3L124.0 288.3L124.6 288.3L125.2 288.3L125.8 288.3L126.4 288.2L127.0 288.2L127.6 288.1L128.2 288.0L128.8 287.9L129.4 287.8L130.0 287.7L130.6 287.6L131.2 287.4L131.8 287.3L132.4 287.2L133.0 287.0L133.6 286.8L134.2 286.6L134.8 286.4L135.4 286.1L136.0 285.8L136.5 285.5L136.9 285.1L137.4 284.8L137.8 284.4L138.3 284.0L138.8 283.6L139.2 283.2L139.7 282.8L140.2 282.3L140.6 281.9L141.1 281.4L141.5 281.0L142.0 280.5L142.4 280.1L142.8 279.7L143.2 279.3L143.6 278.8L144.0 278.4L144.4 278.0L144.8 277.5L145.2 277.1L145.6 276.6L146.0 276.2L146.4 275.7L146.8 275.2L147.2 274.7L147.6 274.2L148.0 273.8L148.4 273.3L148.7 272.9L149.1 272.4L149.4 271.9L149.8 271.5L150.1 271.0L150.5 270.5L150.9 270.0L151.2 269.5L151.6 269.0L151.9 268.5L152.3 268.0L152.6 267.5L153.0 267.0L153.3 266.5L153.7 266.0L154.0 265.5L154.3 265.0L154.7 264.5L155.0 263.9L155.4 263.3L155.7 262.8L156.0 262.2L156.4 261.6L156.7 261.1L157.0 260.5L157.4 260.0L157.7 259.4L158.0 258.9L158.3 258.4L158.5 257.9L158.8 257.4L159.0 256.9L159.2 256.5L159.6 255.7L160.0 255.0L160.2 254.4L160.5 253.7L160.7 253.2L160.9 252.6L161.0 252.2L161.2 251.8L161.3 251.5" stroke="#0000ff" stroke-width="1.6" stroke-dasharray="2.7 1.9 1.0 2.1" stroke-dashoffset="0.7"/>
<path d="M76.5 235.2L76.7 235.5L76.9 235.9L77.1 236.3L77.4 236.8L77.8 237.3L78.1 237.9L78.4 238.5L78.8 239.1L79.1 239.8L79.5 240.5L79.7 241.0L80.0 241.4L80.2 242.0L80.5 242.5L80.7 243.0L81.0 243.6L81.2 244.2L81.5 244.8L81.8 245.3L82.0 245.9L82.3 246.5L82.5 247.1L82.8 247.7L83.0 248.3L83.3 248.9L83.5 249.5L83.7 250.1L83.9 250.6L84.1 251.2L84.3 251.7L84.5 252.2L84.7 252.8L84.9 253.3L85.1 253.8L85.2 254.4L85.4 254.9L85.6 255.5L85.8 256.1L85.9 256.7L86.1 257.4L86.3 258.0L86.5 258.8L86.6 259.3L86.8 259.8L86.9 260.3L87.0 260.8L87.2 261.4L87.3 261.9L87.4 262.5L87.5 263.1L87.7 263.6L87.8 264.2L87.9 264.8L88.1 265.4L88.2 266.0L88.3 266.6L88.5 267.3L88.6 267.9L88.7 268.5L88.9 269.2L89.0 269.8L89.2 270.5L89.3 271.2L89.5 271.8L89.6 272.5L89.7 273.0L89.8 273.6L90.0 274.2L90.1 274.7L90.2 275.3L90.3 275.9L90.5 276.5L90.6 277.1L90.7 277.7L90.9 278.3L91.0 278.9L91.1 279.5L91.3 280.1L91.4 280.7L91.6 281.3L91.7 282.0L91.8 282.6L92.0 283.2L92.1 283.8L92.2 284.5L92.4 285.1L92.5 285.7L92.6 286.3L92.8 287.0L92.9 287.6L93.0 288.2L93.1 288.8L93.3 289.4L93.4 290.0L93.5 290.6L93.6 291.2L93.8 291.8L93.9 292.4L94.0 293.0L94.1 293.6L94.2 294.3L94.3 294.9L94.5 295.5L94.6 296.1L94.7 296.7L94.8 297.3L94.9 298.0L95.0 298.6L95.1 299.2L95.2 299.8L95.4 300.4L95.5 301.0L95.6 301.6L95.7 302.2L95.8 302.8L95.9 303.4L96.0 303.9L96.2 304.5L96.3 305.1L96.4 305.6L96.5 306.2L96.6 306.7L96.8 307.2L96.9 307.9L97.1 308.6L97.2 309.3L97.4 309.9L97.5 310.6L97.7 311.2L97.9 311.9L98.0 312.5L98.2 313.2L98.3 313.8L98.5 314.4L98.7 315.0L98.8 315.6L99.0 316.2L99.2 316.8L99.3 317.3L99.5 317.9L99.7 318.4L99.8 318.9L100.0 319.4L100.2 319.9L100.3 320.3L100.5 320.8L100.8 321.5L101.2 322.2L101.5 322.9L101.8 323.5L102.2 324.0L102.5 324.5L102.9 324.9L103.2 325.4L103.5 325.7L103.9 326.1L104.2 326.4L104.5 326.8L105.1 327.3L105.7 327.7L106.3 327.9L106.9 328.1L107.5 328.2L108.0 328.3L108.6 328.5L109.1 328.7L109.7 328.6L110.5 328.2L110.9 328.0L111.3 327.7L111.7 327.3L112.2 327.0L112.7 326.5L113.2 326.1L113.7 325.6L114.2 325.2L114.7 324.7L115.2 324.3L115.7 323.8L116.1 323.4L116.5 323.0L117.0 322.5L117.5 322.0L117.9 321.5L118.3 321.0L118.7 320.6L119.1 320.1L119.5 319.6L119.8 319.1L120.2 318.5L120.6 318.0L120.9 317.5L121.3 317.0L121.6 316.5L122.0 315.9L122.3 315.4L122.6 314.8L123.0 314.3L123.3 313.7L123.7 313.2L124.0 312.6L124.3 312.1L124.6 311.6L124.9 311.2L125.2 310.7L125.5 310.3L125.8 309.8L126.1 309.3L126.4 308.8L126.7 308.2L127.0 307.6L127.4 306.9L127.8 306.2L128.0 305.8L128.2 305.3L128.4 304.8L128.6 304.3L128.8 303.8L129.1 303.3L129.3 302.8L129.5 302.2L129.8 301.7L130.0 301.1L130.2 300.5L130.5 299.9L130.7 299.3L131.0 298.7L131.2 298.1L131.5 297.5L131.7 296.9L132.0 296.3L132.2 295.7L132.5 295.2L132.7 294.6L133.0 294.0L133.2 293.5L133.5 292.9L133.8 292.4L134.0 291.8L134.3 291.3L134.5 290.7L134.8 290.1L135.1 289.6L135.3 289.0L135.6 288.5L135.9 287.9L136.1 287.3L136.4 286.8L136.7 286.2L136.9 285.7L137.2 285.1L137.5 284.5L137.7 284.0L138.0 283.4L138.2 282.9L138.5 282.3L138.8 281.8L139.0 281.2L139.3 280.7L139.5 280.1L139.8 279.5L140.1 278.9L140.3 278.4L140.6 277.8L140.8 277.3L141.1 276.7L141.3 276.1L141.6 275.6L141.8 275.0L142.1 274.5L142.3 273.9L142.6 273.3L142.8 272.8L143.0 272.2L143.3 271.6L143.5 271.0L143.8 270.4L144.0 269.9L144.2 269.2L144.5 268.7L144.7 268.1L144.9 267.6L145.1 267.0L145.4 266.4L145.6 265.8L145.8 265.2L146.0 264.6L146.2 264.0L146.4 263.4L146.7 262.8L146.9 262.2L147.1 261.6L147.3 261.0L147.5 260.4L147.7 259.8L147.9 259.2L148.2 258.6L148.4 258.0L148.6 257.5L148.8 256.9L149.0 256.3L149.2 255.8L149.4 255.1L149.6 254.6L149.9 254.0L150.1 253.4L150.3 252.9L150.5 252.4L150.7 251.8L150.9 251.3L151.1 250.8L151.4 250.3L151.6 249.7L151.8 249.2L152.0 248.6L152.2 248.1L152.4 247.5L152.6 246.9L152.8 246.3L153.1 245.6L153.3 244.9L153.5 244.2L153.8 243.5L153.9 243.0L154.1 242.5L154.2 242.0L154.4 241.4L154.5 240.9L154.7 240.3L154.9 239.7L155.0 239.1L155.2 238.5L155.4 237.8L155.5 237.2L155.7 236.6L155.9 235.9L156.0 235.3L156.2 234.6L156.4 234.0L156.6 233.3L156.7 232.7L156.9 232.0L157.1 231.4L157.2 230.7L157.4 230.1L157.6 229.5L157.7 228.9L157.9 228.3L158.0 227.7L158.2 227.1L158.3 226.5L158.5 226.0L158.6 225.5L158.7 225.0L158.9 224.5L159.0 224.0L159.2 223.2L159.4 222.4L159.6 221.7L159.8 221.1L160.0 220.5L160.1 219.9L160.3 219.3L160.4 218.8L160.6 218.2L160.7 217.7L160.9 217.2L161.0 216.7L161.2 216.2L161.3 215.7L161.5 215.2L161.6 214.7L161.8 214.1L162.0 213.5L162.2 212.9L162.3 212.4L162.5 211.9L162.7 211.4L162.9 210.9L163.0 210.4L163.2 209.9L163.4 209.4L163.5 208.9L163.7 208.3L163.9 207.8L164.1 207.2L164.3 206.6L164.5 206.0L164.8 205.4L165.0 204.7L165.2 203.9L165.5 203.1L165.8 202.2L165.9 201.8L166.0 201.3L166.2 200.9L166.3 200.4L166.5 199.9L166.6 199.4L166.8 198.8L167.0 198.3L167.1 197.8L167.3 197.2L167.5 196.6L167.7 196.1L167.8 195.5L168.0 194.9L168.2 194.3L168.4 193.7L168.6 193.1L168.7 192.5L168.9 191.9L169.1 191.3L169.3 190.6L169.5 190.0L169.7 189.4L169.9 188.8L170.1 188.1L170.3 187.5L170.4 186.9L170.6 186.2L170.8 185.6L171.0 185.0L171.2 184.3L171.4 183.7L171.6 183.1L171.8 182.4L172.0 181.8L172.1 181.2L172.3 180.6L172.5 180.0L172.7 179.4L172.8 178.8L173.0 178.3L173.2 177.7L173.4 177.1L173.6 176.4L173.7 175.8L173.9 175.2L174.1 174.6L174.3 174.0L174.5 173.4L174.7 172.7L174.8 172.1L175.0 171.5L175.2 170.8L175.4 170.2L175.6 169.6L175.8 168.9L176.0 168.3L176.1 167.7L176.3 167.1L176.5 166.5L176.7 165.8L176.9 165.2L177.0 164.6L177.2 164.0L177.4 163.4L177.6 162.9L177.7 162.3L177.9 161.7L178.1 161.2L178.2 160.6L178.4 160.1L178.5 159.5L178.7 159.0L178.8 158.5L179.0 158.0L179.1 157.5L179.3 157.1L179.4 156.6L179.6 155.8L179.9 155.0L180.1 154.2L180.3 153.5L180.5 152.9L180.7 152.2L180.8 151.6L181.0 151.1L181.2 150.5L181.3 150.0L181.5 149.4L181.6 148.9L181.7 148.4L181.9 147.9L182.0 147.4L182.2 146.8L182.3 146.3L182.5 145.8L182.7 145.2L182.8 144.6L183.0 144.0L183.2 143.4L183.3 142.8L183.5 142.2L183.7 141.5L183.9 140.8L184.1 140.1L184.3 139.4L184.5 138.7L184.7 138.0L184.9 137.3L185.1 136.7L185.3 136.0L185.5 135.3L185.7 134.7L185.9 134.0L186.1 133.4L186.2 132.8L186.4 132.3L186.5 131.8L186.7 131.3L186.8 130.9L186.9 130.5L187.0 130.2" stroke="#0f7d0f" stroke-width="1.65" stroke-dasharray="6.434 7.338"/>
<path d="M183.4 16.4L183.4 16.7L183.5 17.1L183.5 17.5L183.5 17.9L183.6 18.3L183.6 18.8L183.6 19.3L183.7 19.8L183.7 20.4L183.8 21.0L183.8 21.6L183.9 22.2L183.9 22.8L184.0 23.5L184.0 24.1L184.1 24.8L184.2 25.5L184.2 26.2L184.3 26.8L184.3 27.5L184.4 28.2L184.5 28.9L184.5 29.6L184.6 30.3L184.6 31.0L184.7 31.7L184.8 32.4L184.8 33.1L184.9 33.7L184.9 34.4L185.0 35.0L185.1 35.6L185.1 36.2L185.2 36.8L185.2 37.4L185.3 38.0L185.3 38.6L185.4 39.2L185.5 39.8L185.5 40.4L185.6 41.0L185.6 41.6L185.7 42.2L185.8 42.8L185.8 43.4L185.9 44.0L185.9 44.6L186.0 45.2L186.1 45.8L186.1 46.4L186.2 47.1L186.3 47.7L186.3 48.3L186.4 48.9L186.4 49.5L186.5 50.1L186.6 50.7L186.6 51.3L186.7 52.0L186.8 52.6L186.8 53.2L186.9 53.8L186.9 54.4L187.0 55.0L187.1 55.6L187.1 56.2L187.2 56.8L187.2 57.5L187.3 58.1L187.4 58.7L187.4 59.4L187.5 60.0L187.6 60.6L187.6 61.3L187.7 61.9L187.8 62.6L187.8 63.2L187.9 63.8L187.9 64.5L188.0 65.1L188.1 65.8L188.1 66.4L188.2 67.0L188.3 67.6L188.3 68.2L188.4 68.9L188.4 69.5L188.5 70.1L188.6 70.6L188.6 71.2L188.7 71.8L188.7 72.4L188.8 72.9L188.8 73.4L188.9 74.0L188.9 74.5L189.0 75.0L189.1 75.8L189.2 76.5L189.2 77.2L189.3 77.9L189.4 78.6L189.4 79.3L189.5 79.9L189.6 80.5L189.6 81.1L189.7 81.7L189.8 82.3L189.8 82.9L189.9 83.4L189.9 84.0L190.0 84.6L190.1 85.1L190.1 85.7L190.2 86.3L190.3 86.8L190.3 87.4L190.4 88.0L190.5 88.6L190.5 89.2L190.6 89.8L190.7 90.4L190.8 91.0L190.8 91.5L190.9 92.1L191.0 92.7L191.0 93.2L191.1 93.8L191.2 94.4L191.2 95.0L191.3 95.5L191.4 96.1L191.5 96.7L191.6 97.4L191.7 98.0L191.8 98.6L191.9 99.3L192.0 100.0L192.1 100.5L192.2 101.1L192.3 101.6L192.4 102.2L192.5 102.7L192.6 103.3L192.7 103.9L192.8 104.5L192.9 105.1L193.0 105.7L193.1 106.3L193.2 106.9L193.4 107.6L193.5 108.2L193.6 108.8L193.7 109.4L193.8 110.0L193.9 110.7L194.1 111.3L194.2 111.9L194.3 112.5L194.4 113.1L194.5 113.7L194.7 114.3L194.8 114.9L194.9 115.4L195.0 116.0L195.1 116.7L195.3 117.3L195.4 118.0L195.5 118.6L195.7 119.3L195.8 120.0L195.9 120.6L196.0 121.3L196.2 121.9L196.3 122.6L196.4 123.2L196.6 123.8L196.7 124.5L196.8 125.1L197.0 125.7L197.1 126.3L197.2 126.9L197.3 127.4L197.5 128.0L197.6 128.5L197.7 129.0L197.9 129.5L198.0 130.0L198.2 130.8L198.5 131.6L198.7 132.3L198.9 132.9L199.1 133.6L199.4 134.1L199.6 134.7L199.8 135.2L200.1 135.7L200.3 136.2L200.5 136.7L200.8 137.1L201.0 137.5L201.4 138.2L201.9 138.9L202.4 139.5L202.8 140.0L203.3 140.3L203.7 140.5L204.2 140.6L204.6 140.5L205.1 140.2L205.5 139.7L205.9 139.1L206.3 138.5L206.8 137.8L207.3 137.0L207.6 136.5L207.9 136.0L208.3 135.4L208.6 134.8L209.0 134.2L209.4 133.5L209.7 132.8L210.1 132.2L210.4 131.6L210.7 131.0L211.0 130.5L211.2 130.1L211.4 129.8" stroke="#ff8c1a" stroke-width="2.8" stroke-dasharray="0.95 1.7"/>
<path d="M217.8 16.4L217.8 16.7L217.8 17.1L217.8 17.4L217.9 17.8L217.9 18.2L217.9 18.6L217.9 19.1L217.9 19.5L217.9 20.0L218.0 20.5L218.0 21.0L218.0 21.5L218.0 22.1L218.1 22.6L218.1 23.2L218.1 23.8L218.1 24.4L218.2 25.0L218.2 25.6L218.2 26.2L218.2 26.9L218.3 27.5L218.3 28.2L218.3 28.8L218.3 29.5L218.4 30.2L218.4 30.9L218.4 31.6L218.5 32.3L218.5 33.0L218.5 33.7L218.5 34.4L218.6 35.1L218.6 35.8L218.6 36.6L218.7 37.3L218.7 38.0L218.7 38.7L218.8 39.4L218.8 40.1L218.8 40.8L218.8 41.5L218.9 42.2L218.9 42.9L218.9 43.6L219.0 44.3L219.0 45.0L219.0 45.6L219.0 46.1L219.1 46.7L219.1 47.2L219.1 47.8L219.1 48.4L219.2 49.0L219.2 49.5L219.2 50.1L219.2 50.7L219.3 51.3L219.3 51.9L219.3 52.5L219.3 53.1L219.4 53.7L219.4 54.3L219.4 55.0L219.5 55.6L219.5 56.2L219.5 56.8L219.5 57.4L219.6 58.0L219.6 58.7L219.6 59.3L219.6 59.9L219.7 60.6L219.7 61.2L219.7 61.8L219.8 62.4L219.8 63.1L219.8 63.7L219.8 64.3L219.9 65.0L219.9 65.6L219.9 66.2L219.9 66.8L220.0 67.5L220.0 68.1L220.0 68.7L220.1 69.3L220.1 69.9L220.1 70.6L220.1 71.2L220.2 71.8L220.2 72.4L220.2 73.0L220.3 73.6L220.3 74.2L220.3 74.8L220.4 75.4L220.4 76.0L220.4 76.6L220.4 77.2L220.5 77.7L220.5 78.3L220.5 78.9L220.6 79.4L220.6 80.0L220.6 80.7L220.7 81.3L220.7 82.0L220.7 82.6L220.8 83.3L220.8 83.9L220.9 84.6L220.9 85.2L220.9 85.9L221.0 86.5L221.0 87.2L221.1 87.8L221.1 88.5L221.1 89.1L221.2 89.8L221.2 90.4L221.2 91.0L221.3 91.7L221.3 92.3L221.4 92.9L221.4 93.5L221.4 94.2L221.5 94.8L221.5 95.4L221.6 96.0L221.6 96.6L221.7 97.2L221.7 97.8L221.7 98.4L221.8 99.0L221.8 99.6L221.9 100.2L221.9 100.8L221.9 101.4L222.0 102.0L222.0 102.5L222.1 103.1L222.1 103.7L222.2 104.2L222.2 104.8L222.2 105.4L222.3 105.9L222.3 106.4L222.4 107.0L222.4 107.5L222.5 108.0L222.5 108.6L222.6 109.1L222.6 109.6L222.7 110.3L222.7 111.0L222.8 111.7L222.9 112.4L222.9 113.1L223.0 113.8L223.1 114.4L223.1 115.0L223.2 115.7L223.3 116.3L223.3 116.9L223.4 117.5L223.5 118.1L223.5 118.7L223.6 119.2L223.7 119.8L223.7 120.4L223.8 120.9L223.9 121.5L223.9 122.1L224.0 122.6L224.1 123.2L224.2 123.7L224.2 124.3L224.3 124.8L224.4 125.4L224.4 126.0L224.5 126.5L224.6 127.1L224.7 127.7L224.8 128.2L224.8 128.8L224.9 129.4L225.0 130.0L225.1 130.6L225.2 131.2L225.3 131.8L225.3 132.5L225.4 133.1L225.5 133.7L225.6 134.3L225.7 135.0L225.8 135.6L225.9 136.3L226.0 136.9L226.1 137.5L226.2 138.2L226.3 138.8L226.4 139.5L226.5 140.1L226.6 140.7L226.7 141.3L226.8 142.0L226.9 142.6L227.0 143.2L227.1 143.8L227.2 144.4L227.3 145.0L227.4 145.6L227.5 146.2L227.6 146.7L227.6 147.3L227.7 147.8L227.8 148.4L227.9 148.9L228.0 149.4L228.1 149.9L228.2 150.4L228.3 151.2L228.5 152.0L228.6 152.7L228.8 153.4L228.9 154.1L229.1 154.7L229.2 155.4L229.3 156.0L229.5 156.6L229.6 157.2L229.7 157.7L229.9 158.3L230.0 158.8L230.1 159.4L230.3 159.9L230.4 160.4L230.6 160.9L230.7 161.5L230.9 162.0L231.0 162.5L231.2 163.2L231.4 163.8L231.6 164.5L231.8 165.1L232.1 165.7L232.3 166.2L232.5 166.8L232.7 167.4L232.9 167.9L233.1 168.5L233.4 169.0L233.6 169.6L233.8 170.1L234.0 170.7L234.2 171.2L234.5 171.8L234.7 172.4L234.9 173.0L235.1 173.6L235.3 174.1L235.4 174.7L235.6 175.3L235.8 175.9L236.0 176.4L236.2 177.0L236.5 177.6L236.7 178.2L237.0 178.8L237.2 179.4L237.5 180.0L237.8 180.5L238.0 181.0L238.3 181.6L238.6 182.1L238.9 182.7L239.2 183.2L239.5 183.8L239.8 184.3L240.2 184.9L240.5 185.4L240.8 186.0L241.2 186.5L241.5 187.1L241.8 187.6L242.1 188.1L242.4 188.6L242.7 189.0L243.0 189.5L243.4 190.1L243.7 190.7L244.1 191.3L244.4 191.8L244.8 192.4L245.1 192.9L245.4 193.4L245.7 193.9L246.1 194.3L246.4 194.8L246.8 195.2L247.1 195.6L247.5 196.0L248.0 196.5L248.5 197.0L249.1 197.4L249.7 197.8L250.2 198.2L250.8 198.5L251.4 198.8L251.9 199.1L252.5 199.3L253.0 199.5L253.7 199.6L254.3 199.7L255.0 199.7L255.6 199.6L256.2 199.5L256.8 199.3L257.4 199.2L258.0 199.0L258.6 198.8L259.2 198.6L259.8 198.3L260.3 198.0L260.9 197.7L261.4 197.4L262.0 197.0L262.5 196.7L263.0 196.4L263.4 196.1L263.9 195.8L264.4 195.5L265.0 195.1L265.6 194.6L266.2 194.0L266.6 193.7L267.0 193.4L267.4 193.0L267.8 192.6L268.2 192.3L268.7 191.9L269.1 191.5L269.6 191.0L270.1 190.6L270.5 190.2L271.0 189.7L271.5 189.3L272.0 188.8L272.4 188.3L272.9 187.9L273.3 187.4L273.8 187.0L274.2 186.6L274.6 186.1L275.0 185.7L275.4 185.2L275.9 184.7L276.3 184.3L276.7 183.8L277.1 183.3L277.5 182.9L277.9 182.4L278.4 181.9L278.8 181.4L279.2 180.9L279.6 180.5L280.0 180.0L280.4 179.5L280.8 179.0L281.1 178.5L281.5 178.0L281.9 177.5L282.3 177.0L282.7 176.5L283.0 176.0L283.4 175.5L283.8 175.0L284.1 174.5L284.5 174.0L284.8 173.5L285.2 173.0L285.6 172.5L285.9 172.0L286.3 171.5L286.6 171.0L287.0 170.5L287.4 170.0L287.7 169.5L288.1 169.0L288.4 168.5L288.8 168.0L289.2 167.5L289.5 167.0L289.9 166.5L290.2 166.0L290.6 165.5L290.9 165.0L291.3 164.5L291.6 164.0L292.0 163.5L292.3 163.0L292.7 162.5L293.0 162.0L293.3 161.5L293.6 161.0L294.0 160.4L294.3 159.9L294.6 159.4L294.8 158.8L295.1 158.3L295.4 157.7L295.7 157.2L296.0 156.6L296.3 156.1L296.6 155.6L296.9 155.0L297.2 154.5L297.6 154.0L297.9 153.5L298.2 153.0L298.6 152.5L299.0 152.0L299.4 151.5L299.9 150.9L300.3 150.4L300.8 149.9L301.3 149.3L301.7 148.8L302.2 148.3L302.6 147.8L303.1 147.4L303.5 146.9L303.8 146.5L304.2 146.1L304.5 145.8L304.8 145.5L305.0 145.2" stroke="#7c7c7c" stroke-width="1.45" stroke-dasharray="9.803 10.803"/>
</g>
<g style="will-change:transform">
<g font-family="Liberation Serif, serif" font-size="15" fill="#000">
<text x="55.40" y="376.70" text-anchor="middle">10<tspan font-size="10" dy="-5.9">7</tspan></text>
<text x="86.76" y="376.70" text-anchor="middle">10<tspan font-size="10" dy="-5.9">8</tspan></text>
<text x="118.13" y="376.70" text-anchor="middle">10<tspan font-size="10" dy="-5.9">9</tspan></text>
<text x="148.99" y="376.70" text-anchor="middle">10<tspan font-size="10" dy="-5.9">10</tspan></text>
<text x="180.35" y="376.70" text-anchor="middle">10<tspan font-size="10" dy="-5.9">11</tspan></text>
<text x="211.72" y="376.70" text-anchor="middle">10<tspan font-size="10" dy="-5.9">12</tspan></text>
<text x="243.08" y="376.70" text-anchor="middle">10<tspan font-size="10" dy="-5.9">13</tspan></text>
<text x="274.45" y="376.70" text-anchor="middle">10<tspan font-size="10" dy="-5.9">14</tspan></text>
<text x="305.81" y="376.70" text-anchor="middle">10<tspan font-size="10" dy="-5.9">15</tspan></text>
<text x="337.17" y="376.70" text-anchor="middle">10<tspan font-size="10" dy="-5.9">16</tspan></text>
<text x="368.54" y="376.70" text-anchor="middle">10<tspan font-size="10" dy="-5.9">17</tspan></text>
<text x="399.90" y="376.70" text-anchor="middle">10<tspan font-size="10" dy="-5.9">18</tspan></text>
<text x="52.20" y="21.30" text-anchor="end">10<tspan font-size="10.6" dy="-5.8">−7</tspan></text>
<text x="52.20" y="136.30" text-anchor="end">10<tspan font-size="10.6" dy="-5.8">−8</tspan></text>
<text x="52.20" y="251.30" text-anchor="end">10<tspan font-size="10.6" dy="-5.8">−9</tspan></text>
<text x="52.20" y="366.30" text-anchor="end">10<tspan font-size="10.6" dy="-5.8">−10</tspan></text>
<text x="226.80" y="394.90" text-anchor="middle">Neutrino Energy E [GeV]</text>
<text transform="translate(13.60 189.30) rotate(-90)" text-anchor="middle">All Flavor E<tspan font-size="10.4" dy="-5.8" letter-spacing="0.5">2</tspan><tspan dy="5.8">Φ [GeV cm</tspan><tspan font-size="10.4" dy="-5.8" letter-spacing="0.5">−2</tspan><tspan dy="5.8">s</tspan><tspan font-size="10.4" dy="-5.8" letter-spacing="0.5">−1</tspan><tspan dy="5.8">sr</tspan><tspan font-size="10.4" dy="-5.8" letter-spacing="0.5">−1</tspan><tspan dy="5.8">]</tspan></text>
</g>
<g font-family="Liberation Serif, serif" font-size="11.6" fill="#000">
<text x="72.00" y="37.50" font-size="13.5" font-style="italic">χ</text>
<path d="M82.6 35.1H90.3M87.6 32.9Q88.6 34.6 90.6 35.1Q88.6 35.6 87.6 37.3" stroke="#000" stroke-width="0.75" fill="none"/>
<text x="94.20" y="37.50">b</text>
<text x="100.60" y="37.50">b</text>
<path d="M101.0 29.9H106.8" stroke="#000" stroke-width="0.8"/>
<text x="71.40" y="56.70">τ</text>
<text x="76.50" y="59.00" font-size="8.8" font-style="italic">χ</text>
<text x="85.30" y="56.70">=</text>
<text x="94.00" y="56.70">10</text>
<text x="105.40" y="52.40" font-size="8.4">16</text>
<text x="115.40" y="56.70">s</text>
<text x="71.40" y="75.00">f</text>
<text x="76.50" y="77.30" font-size="8.8" font-style="italic">χ</text>
<text x="85.30" y="75.00">=</text>
<text x="94.00" y="75.00">10</text>
<text x="105.40" y="70.70" font-size="8.4">−11</text>
</g>
<text x="60.00" y="195.50" font-family="Liberation Serif, serif" font-size="11" fill="#f5a0a0">2 × 10<tspan font-size="7.5" dy="-4.1" dx="0.5">11</tspan><tspan dy="4.1" dx="0.2"> GeV</tspan></text>
<text x="154.20" y="202.50" font-family="Liberation Serif, serif" font-size="11" fill="#ff0000">2 × 10<tspan font-size="7.5" dy="-4.1" dx="0.5">15</tspan><tspan dy="4.1" dx="0.2"> GeV</tspan></text>
<text x="235.70" y="207.50" font-family="Liberation Serif, serif" font-size="11" fill="#ad0000">2 × 10<tspan font-size="7.5" dy="-4.1" dx="0.5">19</tspan><tspan dy="4.1" dx="0.2"> GeV</tspan></text>
<g font-family="Liberation Sans, sans-serif" font-size="8.3" fill="#000">
<text x="337.6" y="34.70">IceCube</text>
<text x="337.6" y="60.10">IceCube–Gen2</text>
<text x="337.6" y="85.60">GRAND</text>
<text x="337.6" y="111.20">POEMMA30</text>
<text x="337.6" y="137.00">ULW300</text>
<path d="M306.3 29.5H329.7" stroke="#0000ff" stroke-width="1"/>
<path d="M306.9 55H329.7" stroke="#0000ff" stroke-width="1.3" stroke-dasharray="1 1.9 2.6 2.2"/>
<path d="M306.9 80.4H329.7" stroke="#0f7d0f" stroke-width="1.1" stroke-dasharray="3.9 4.2"/>
<path d="M307.2 106H329.7" stroke="#ff8c1a" stroke-width="2.4" stroke-dasharray="1 2"/>
<path d="M307 131.3H329.7" stroke="#7c7c7c" stroke-width="1" stroke-dasharray="5.6 6.3"/>
<path d="M303.5 157.3H326.8" stroke="#ff0000" stroke-width="1.8"/>
<path d="M303.9 174.5H326.8" stroke="#ff0000" stroke-width="1.7" stroke-dasharray="3.2 1.75"/>
<path d="M304.2 194.1H326.8" stroke="#ff0000" stroke-width="1.4" stroke-dasharray="1 1.83"/>
<text x="331.3" y="161.10" font-size="8.8" stroke="#000" stroke-width="0.25">Φ</text><text x="338.0" y="163.40" font-size="6.3">EG</text>
<text x="331.3" y="178.10" font-size="8.8" stroke="#000" stroke-width="0.25">Φ</text><text x="338.0" y="180.40" font-size="6.3">EG</text><text x="338.0" y="173.40" font-size="6.2">cas</text>
<text x="331.3" y="197.60" font-size="8.8" stroke="#000" stroke-width="0.25">Φ</text><text x="338.0" y="199.90" font-size="6.3">EG</text><text x="338.0" y="192.90" font-size="6.2">prompt</text>
</g>
</g>
</svg>
</body></html>
